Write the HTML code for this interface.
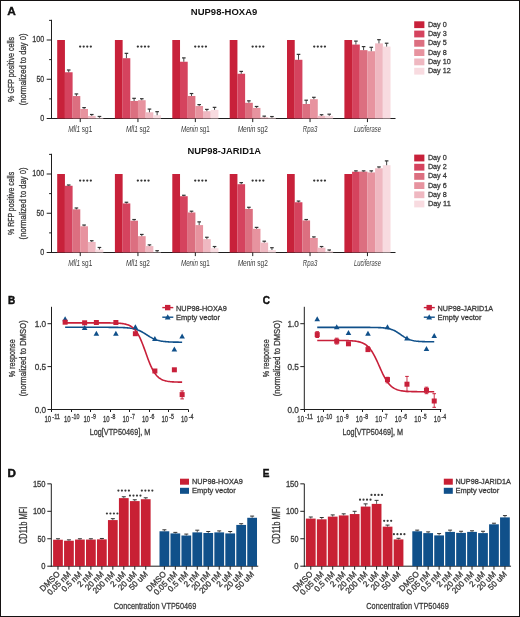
<!DOCTYPE html>
<html><head><meta charset="utf-8"><style>
html,body{margin:0;padding:0;background:#fff;width:520px;height:617px;overflow:hidden}
svg{display:block;will-change:transform}
text{font-family:"Liberation Sans", sans-serif}
</style></head><body>
<svg width="520" height="617" viewBox="0 0 520 617">
<rect x="0" y="0" width="520" height="617" fill="#fff"/>
<text x="7.20" y="15.00" font-size="10" text-anchor="start" fill="#111" font-weight="bold" textLength="8.6" lengthAdjust="spacingAndGlyphs" stroke="#111" stroke-width="0.3">A</text>
<line x1="51.50" y1="19.80" x2="51.50" y2="119.00" stroke="#1e1e1e" stroke-width="1"/>
<line x1="46.70" y1="118.50" x2="51.50" y2="118.50" stroke="#1e1e1e" stroke-width="1"/>
<line x1="46.70" y1="79.25" x2="51.50" y2="79.25" stroke="#1e1e1e" stroke-width="1"/>
<line x1="46.70" y1="40.00" x2="51.50" y2="40.00" stroke="#1e1e1e" stroke-width="1"/>
<line x1="49.10" y1="98.88" x2="51.50" y2="98.88" stroke="#1e1e1e" stroke-width="1"/>
<line x1="49.10" y1="59.62" x2="51.50" y2="59.62" stroke="#1e1e1e" stroke-width="1"/>
<line x1="49.10" y1="20.38" x2="51.50" y2="20.38" stroke="#1e1e1e" stroke-width="1"/>
<text x="44.20" y="120.80" font-size="8.6" text-anchor="end" fill="#3a3a3a" stroke="#3a3a3a" stroke-width="0.3" textLength="4.0" lengthAdjust="spacingAndGlyphs">0</text>
<text x="44.20" y="81.55" font-size="8.6" text-anchor="end" fill="#3a3a3a" stroke="#3a3a3a" stroke-width="0.3" textLength="7.7" lengthAdjust="spacingAndGlyphs">50</text>
<text x="44.20" y="42.30" font-size="8.6" text-anchor="end" fill="#3a3a3a" stroke="#3a3a3a" stroke-width="0.3" textLength="12.0" lengthAdjust="spacingAndGlyphs">100</text>
<line x1="51.00" y1="118.50" x2="395.50" y2="118.50" stroke="#1e1e1e" stroke-width="1"/>
<rect x="57.20" y="40.00" width="7.73" height="78.50" fill="#c8213a"/>
<rect x="64.88" y="72.26" width="7.73" height="46.24" fill="#d5435e"/>
<rect x="72.56" y="96.05" width="7.73" height="22.45" fill="#dc6f80"/>
<rect x="80.24" y="109.00" width="7.73" height="9.50" fill="#e7939f"/>
<rect x="87.92" y="115.91" width="7.73" height="2.59" fill="#efb8c1"/>
<rect x="95.60" y="117.79" width="7.73" height="0.71" fill="#f8dbe0"/>
<line x1="68.72" y1="72.26" x2="68.72" y2="69.99" stroke="#333" stroke-width="0.9"/>
<line x1="66.92" y1="69.99" x2="70.52" y2="69.99" stroke="#333" stroke-width="1.2"/>
<line x1="76.40" y1="96.05" x2="76.40" y2="93.93" stroke="#333" stroke-width="0.9"/>
<line x1="74.60" y1="93.93" x2="78.20" y2="93.93" stroke="#333" stroke-width="1.2"/>
<line x1="84.08" y1="109.00" x2="84.08" y2="107.59" stroke="#333" stroke-width="0.9"/>
<line x1="82.28" y1="107.59" x2="85.88" y2="107.59" stroke="#333" stroke-width="1.2"/>
<line x1="91.76" y1="115.91" x2="91.76" y2="114.50" stroke="#333" stroke-width="0.9"/>
<line x1="89.96" y1="114.50" x2="93.56" y2="114.50" stroke="#333" stroke-width="1.2"/>
<line x1="99.44" y1="117.79" x2="99.44" y2="116.46" stroke="#333" stroke-width="0.9"/>
<line x1="97.64" y1="116.46" x2="101.24" y2="116.46" stroke="#333" stroke-width="1.2"/>
<line x1="80.24" y1="118.50" x2="80.24" y2="122.10" stroke="#1e1e1e" stroke-width="1"/>
<circle cx="80.14" cy="46.60" r="1.15" fill="#333"/>
<circle cx="83.70" cy="46.60" r="1.15" fill="#333"/>
<circle cx="87.26" cy="46.60" r="1.15" fill="#333"/>
<circle cx="90.82" cy="46.60" r="1.15" fill="#333"/>
<text x="80.24" y="131.60" font-size="8.8" text-anchor="middle" fill="#3a3a3a" textLength="24.0" lengthAdjust="spacingAndGlyphs"><tspan font-style="italic">Mll1</tspan> sg1</text>
<rect x="114.90" y="40.00" width="7.73" height="78.50" fill="#c8213a"/>
<rect x="122.58" y="58.21" width="7.73" height="60.29" fill="#d5435e"/>
<rect x="130.26" y="100.99" width="7.73" height="17.51" fill="#dc6f80"/>
<rect x="137.94" y="100.21" width="7.73" height="18.29" fill="#e7939f"/>
<rect x="145.62" y="112.30" width="7.73" height="6.20" fill="#efb8c1"/>
<rect x="153.30" y="115.20" width="7.73" height="3.30" fill="#f8dbe0"/>
<line x1="126.42" y1="58.21" x2="126.42" y2="53.34" stroke="#333" stroke-width="0.9"/>
<line x1="124.62" y1="53.34" x2="128.22" y2="53.34" stroke="#333" stroke-width="1.2"/>
<line x1="134.10" y1="100.99" x2="134.10" y2="98.33" stroke="#333" stroke-width="0.9"/>
<line x1="132.30" y1="98.33" x2="135.90" y2="98.33" stroke="#333" stroke-width="1.2"/>
<line x1="141.78" y1="100.21" x2="141.78" y2="98.72" stroke="#333" stroke-width="0.9"/>
<line x1="139.98" y1="98.72" x2="143.58" y2="98.72" stroke="#333" stroke-width="1.2"/>
<line x1="149.46" y1="112.30" x2="149.46" y2="109.08" stroke="#333" stroke-width="0.9"/>
<line x1="147.66" y1="109.08" x2="151.26" y2="109.08" stroke="#333" stroke-width="1.2"/>
<line x1="157.14" y1="115.20" x2="157.14" y2="111.67" stroke="#333" stroke-width="0.9"/>
<line x1="155.34" y1="111.67" x2="158.94" y2="111.67" stroke="#333" stroke-width="1.2"/>
<line x1="137.94" y1="118.50" x2="137.94" y2="122.10" stroke="#1e1e1e" stroke-width="1"/>
<circle cx="137.84" cy="46.60" r="1.15" fill="#333"/>
<circle cx="141.40" cy="46.60" r="1.15" fill="#333"/>
<circle cx="144.96" cy="46.60" r="1.15" fill="#333"/>
<circle cx="148.52" cy="46.60" r="1.15" fill="#333"/>
<text x="137.94" y="131.60" font-size="8.8" text-anchor="middle" fill="#3a3a3a" textLength="24.0" lengthAdjust="spacingAndGlyphs"><tspan font-style="italic">Mll1</tspan> sg2</text>
<rect x="172.30" y="40.00" width="7.73" height="78.50" fill="#c8213a"/>
<rect x="179.98" y="61.74" width="7.73" height="56.76" fill="#d5435e"/>
<rect x="187.66" y="95.97" width="7.73" height="22.53" fill="#dc6f80"/>
<rect x="195.34" y="106.02" width="7.73" height="12.48" fill="#e7939f"/>
<rect x="203.02" y="111.20" width="7.73" height="7.30" fill="#efb8c1"/>
<rect x="210.70" y="109.86" width="7.73" height="8.63" fill="#f8dbe0"/>
<line x1="183.82" y1="61.74" x2="183.82" y2="57.90" stroke="#333" stroke-width="0.9"/>
<line x1="182.02" y1="57.90" x2="185.62" y2="57.90" stroke="#333" stroke-width="1.2"/>
<line x1="191.50" y1="95.97" x2="191.50" y2="93.54" stroke="#333" stroke-width="0.9"/>
<line x1="189.70" y1="93.54" x2="193.30" y2="93.54" stroke="#333" stroke-width="1.2"/>
<line x1="199.18" y1="106.02" x2="199.18" y2="104.61" stroke="#333" stroke-width="0.9"/>
<line x1="197.38" y1="104.61" x2="200.98" y2="104.61" stroke="#333" stroke-width="1.2"/>
<line x1="206.86" y1="111.20" x2="206.86" y2="109.39" stroke="#333" stroke-width="0.9"/>
<line x1="205.06" y1="109.39" x2="208.66" y2="109.39" stroke="#333" stroke-width="1.2"/>
<line x1="214.54" y1="109.86" x2="214.54" y2="107.35" stroke="#333" stroke-width="0.9"/>
<line x1="212.74" y1="107.35" x2="216.34" y2="107.35" stroke="#333" stroke-width="1.2"/>
<line x1="195.34" y1="118.50" x2="195.34" y2="122.10" stroke="#1e1e1e" stroke-width="1"/>
<circle cx="195.24" cy="46.60" r="1.15" fill="#333"/>
<circle cx="198.80" cy="46.60" r="1.15" fill="#333"/>
<circle cx="202.36" cy="46.60" r="1.15" fill="#333"/>
<circle cx="205.92" cy="46.60" r="1.15" fill="#333"/>
<text x="195.34" y="131.60" font-size="8.8" text-anchor="middle" fill="#3a3a3a" textLength="28.8" lengthAdjust="spacingAndGlyphs"><tspan font-style="italic">Menin</tspan> sg1</text>
<rect x="229.70" y="40.00" width="7.73" height="78.50" fill="#c8213a"/>
<rect x="237.38" y="73.75" width="7.73" height="44.75" fill="#d5435e"/>
<rect x="245.06" y="102.80" width="7.73" height="15.70" fill="#dc6f80"/>
<rect x="252.74" y="107.90" width="7.73" height="10.60" fill="#e7939f"/>
<rect x="260.42" y="117.32" width="7.73" height="1.18" fill="#efb8c1"/>
<rect x="268.10" y="117.72" width="7.73" height="0.79" fill="#f8dbe0"/>
<line x1="241.22" y1="73.75" x2="241.22" y2="71.40" stroke="#333" stroke-width="0.9"/>
<line x1="239.42" y1="71.40" x2="243.02" y2="71.40" stroke="#333" stroke-width="1.2"/>
<line x1="248.90" y1="102.80" x2="248.90" y2="100.84" stroke="#333" stroke-width="0.9"/>
<line x1="247.10" y1="100.84" x2="250.70" y2="100.84" stroke="#333" stroke-width="1.2"/>
<line x1="256.58" y1="107.90" x2="256.58" y2="106.49" stroke="#333" stroke-width="0.9"/>
<line x1="254.78" y1="106.49" x2="258.38" y2="106.49" stroke="#333" stroke-width="1.2"/>
<line x1="264.26" y1="117.32" x2="264.26" y2="116.14" stroke="#333" stroke-width="0.9"/>
<line x1="262.46" y1="116.14" x2="266.06" y2="116.14" stroke="#333" stroke-width="1.2"/>
<line x1="271.94" y1="117.72" x2="271.94" y2="116.54" stroke="#333" stroke-width="0.9"/>
<line x1="270.14" y1="116.54" x2="273.74" y2="116.54" stroke="#333" stroke-width="1.2"/>
<line x1="252.74" y1="118.50" x2="252.74" y2="122.10" stroke="#1e1e1e" stroke-width="1"/>
<circle cx="252.64" cy="46.60" r="1.15" fill="#333"/>
<circle cx="256.20" cy="46.60" r="1.15" fill="#333"/>
<circle cx="259.76" cy="46.60" r="1.15" fill="#333"/>
<circle cx="263.32" cy="46.60" r="1.15" fill="#333"/>
<text x="252.74" y="131.60" font-size="8.8" text-anchor="middle" fill="#3a3a3a" textLength="30.2" lengthAdjust="spacingAndGlyphs"><tspan font-style="italic">Menin</tspan> sg2</text>
<rect x="287.00" y="40.00" width="7.73" height="78.50" fill="#c8213a"/>
<rect x="294.68" y="59.78" width="7.73" height="58.72" fill="#d5435e"/>
<rect x="302.36" y="103.98" width="7.73" height="14.52" fill="#dc6f80"/>
<rect x="310.04" y="99.19" width="7.73" height="19.31" fill="#e7939f"/>
<rect x="317.72" y="115.83" width="7.73" height="2.67" fill="#efb8c1"/>
<rect x="325.40" y="115.83" width="7.73" height="2.67" fill="#f8dbe0"/>
<line x1="298.52" y1="59.78" x2="298.52" y2="54.37" stroke="#333" stroke-width="0.9"/>
<line x1="296.72" y1="54.37" x2="300.32" y2="54.37" stroke="#333" stroke-width="1.2"/>
<line x1="306.20" y1="103.98" x2="306.20" y2="100.21" stroke="#333" stroke-width="0.9"/>
<line x1="304.40" y1="100.21" x2="308.00" y2="100.21" stroke="#333" stroke-width="1.2"/>
<line x1="313.88" y1="99.19" x2="313.88" y2="97.31" stroke="#333" stroke-width="0.9"/>
<line x1="312.08" y1="97.31" x2="315.68" y2="97.31" stroke="#333" stroke-width="1.2"/>
<line x1="321.56" y1="115.83" x2="321.56" y2="114.73" stroke="#333" stroke-width="0.9"/>
<line x1="319.76" y1="114.73" x2="323.36" y2="114.73" stroke="#333" stroke-width="1.2"/>
<line x1="329.24" y1="115.83" x2="329.24" y2="114.18" stroke="#333" stroke-width="0.9"/>
<line x1="327.44" y1="114.18" x2="331.04" y2="114.18" stroke="#333" stroke-width="1.2"/>
<line x1="310.04" y1="118.50" x2="310.04" y2="122.10" stroke="#1e1e1e" stroke-width="1"/>
<circle cx="314.24" cy="46.60" r="1.15" fill="#333"/>
<circle cx="317.80" cy="46.60" r="1.15" fill="#333"/>
<circle cx="321.36" cy="46.60" r="1.15" fill="#333"/>
<circle cx="324.92" cy="46.60" r="1.15" fill="#333"/>
<text x="310.04" y="131.60" font-size="8.8" text-anchor="middle" fill="#3a3a3a" textLength="14.5" lengthAdjust="spacingAndGlyphs"><tspan font-style="italic">Rpa3</tspan></text>
<rect x="344.40" y="40.00" width="7.73" height="78.50" fill="#c8213a"/>
<rect x="352.08" y="44.55" width="7.73" height="73.95" fill="#d5435e"/>
<rect x="359.76" y="50.13" width="7.73" height="68.37" fill="#dc6f80"/>
<rect x="367.44" y="51.23" width="7.73" height="67.27" fill="#e7939f"/>
<rect x="375.12" y="43.38" width="7.73" height="75.12" fill="#efb8c1"/>
<rect x="382.80" y="46.59" width="7.73" height="71.91" fill="#f8dbe0"/>
<line x1="355.92" y1="44.55" x2="355.92" y2="41.10" stroke="#333" stroke-width="0.9"/>
<line x1="354.12" y1="41.10" x2="357.72" y2="41.10" stroke="#333" stroke-width="1.2"/>
<line x1="363.60" y1="50.13" x2="363.60" y2="46.59" stroke="#333" stroke-width="0.9"/>
<line x1="361.80" y1="46.59" x2="365.40" y2="46.59" stroke="#333" stroke-width="1.2"/>
<line x1="371.28" y1="51.23" x2="371.28" y2="47.30" stroke="#333" stroke-width="0.9"/>
<line x1="369.48" y1="47.30" x2="373.08" y2="47.30" stroke="#333" stroke-width="1.2"/>
<line x1="378.96" y1="43.38" x2="378.96" y2="39.69" stroke="#333" stroke-width="0.9"/>
<line x1="377.16" y1="39.69" x2="380.76" y2="39.69" stroke="#333" stroke-width="1.2"/>
<line x1="386.64" y1="46.59" x2="386.64" y2="43.22" stroke="#333" stroke-width="0.9"/>
<line x1="384.84" y1="43.22" x2="388.44" y2="43.22" stroke="#333" stroke-width="1.2"/>
<line x1="367.44" y1="118.50" x2="367.44" y2="122.10" stroke="#1e1e1e" stroke-width="1"/>
<text x="367.44" y="131.60" font-size="8.8" text-anchor="middle" fill="#3a3a3a" textLength="27.0" lengthAdjust="spacingAndGlyphs"><tspan font-style="italic">Luciferase</tspan></text>
<text x="190.80" y="15.00" font-size="9.2" text-anchor="start" fill="#111" font-weight="bold" textLength="66.5" lengthAdjust="spacingAndGlyphs">NUP98-HOXA9</text>
<rect x="414.20" y="21.30" width="10.20" height="6.80" fill="#c8213a"/>
<text x="427.90" y="26.60" font-size="7.8" text-anchor="start" fill="#3a3a3a" stroke="#3a3a3a" stroke-width="0.3" textLength="18.8" lengthAdjust="spacingAndGlyphs">Day 0</text>
<rect x="414.20" y="30.60" width="10.20" height="6.80" fill="#d5435e"/>
<text x="427.90" y="35.90" font-size="7.8" text-anchor="start" fill="#3a3a3a" stroke="#3a3a3a" stroke-width="0.3" textLength="18.8" lengthAdjust="spacingAndGlyphs">Day 3</text>
<rect x="414.20" y="39.90" width="10.20" height="6.80" fill="#dc6f80"/>
<text x="427.90" y="45.20" font-size="7.8" text-anchor="start" fill="#3a3a3a" stroke="#3a3a3a" stroke-width="0.3" textLength="18.8" lengthAdjust="spacingAndGlyphs">Day 5</text>
<rect x="414.20" y="49.20" width="10.20" height="6.80" fill="#e7939f"/>
<text x="427.90" y="54.50" font-size="7.8" text-anchor="start" fill="#3a3a3a" stroke="#3a3a3a" stroke-width="0.3" textLength="18.8" lengthAdjust="spacingAndGlyphs">Day 8</text>
<rect x="414.20" y="58.50" width="10.20" height="6.80" fill="#efb8c1"/>
<text x="427.90" y="63.80" font-size="7.8" text-anchor="start" fill="#3a3a3a" stroke="#3a3a3a" stroke-width="0.3" textLength="22.9" lengthAdjust="spacingAndGlyphs">Day 10</text>
<rect x="414.20" y="67.80" width="10.20" height="6.80" fill="#f8dbe0"/>
<text x="427.90" y="73.10" font-size="7.8" text-anchor="start" fill="#3a3a3a" stroke="#3a3a3a" stroke-width="0.3" textLength="22.9" lengthAdjust="spacingAndGlyphs">Day 12</text>
<text x="13.80" y="69.40" font-size="9.4" text-anchor="middle" fill="#3a3a3a" stroke="#3a3a3a" stroke-width="0.3" textLength="65" lengthAdjust="spacingAndGlyphs" transform="rotate(-90 13.8 69.40)">% GFP positive cells</text>
<text x="26.00" y="69.40" font-size="9.4" text-anchor="middle" fill="#3a3a3a" stroke="#3a3a3a" stroke-width="0.3" textLength="71.7" lengthAdjust="spacingAndGlyphs" transform="rotate(-90 26.0 69.40)">(normalized to day 0)</text>
<line x1="51.50" y1="153.80" x2="51.50" y2="253.00" stroke="#1e1e1e" stroke-width="1"/>
<line x1="46.70" y1="252.50" x2="51.50" y2="252.50" stroke="#1e1e1e" stroke-width="1"/>
<line x1="46.70" y1="213.25" x2="51.50" y2="213.25" stroke="#1e1e1e" stroke-width="1"/>
<line x1="46.70" y1="174.00" x2="51.50" y2="174.00" stroke="#1e1e1e" stroke-width="1"/>
<line x1="49.10" y1="232.88" x2="51.50" y2="232.88" stroke="#1e1e1e" stroke-width="1"/>
<line x1="49.10" y1="193.62" x2="51.50" y2="193.62" stroke="#1e1e1e" stroke-width="1"/>
<line x1="49.10" y1="154.38" x2="51.50" y2="154.38" stroke="#1e1e1e" stroke-width="1"/>
<text x="44.20" y="254.80" font-size="8.6" text-anchor="end" fill="#3a3a3a" stroke="#3a3a3a" stroke-width="0.3" textLength="4.0" lengthAdjust="spacingAndGlyphs">0</text>
<text x="44.20" y="215.55" font-size="8.6" text-anchor="end" fill="#3a3a3a" stroke="#3a3a3a" stroke-width="0.3" textLength="7.7" lengthAdjust="spacingAndGlyphs">50</text>
<text x="44.20" y="176.30" font-size="8.6" text-anchor="end" fill="#3a3a3a" stroke="#3a3a3a" stroke-width="0.3" textLength="12.0" lengthAdjust="spacingAndGlyphs">100</text>
<line x1="51.00" y1="252.50" x2="395.50" y2="252.50" stroke="#1e1e1e" stroke-width="1"/>
<rect x="57.20" y="174.00" width="7.73" height="78.50" fill="#c8213a"/>
<rect x="64.88" y="185.77" width="7.73" height="66.73" fill="#d5435e"/>
<rect x="72.56" y="209.32" width="7.73" height="43.18" fill="#dc6f80"/>
<rect x="80.24" y="226.28" width="7.73" height="26.22" fill="#e7939f"/>
<rect x="87.92" y="241.98" width="7.73" height="10.52" fill="#efb8c1"/>
<rect x="95.60" y="249.52" width="7.73" height="2.98" fill="#f8dbe0"/>
<line x1="68.72" y1="185.77" x2="68.72" y2="184.99" stroke="#333" stroke-width="0.9"/>
<line x1="66.92" y1="184.99" x2="70.52" y2="184.99" stroke="#333" stroke-width="1.2"/>
<line x1="76.40" y1="209.32" x2="76.40" y2="207.99" stroke="#333" stroke-width="0.9"/>
<line x1="74.60" y1="207.99" x2="78.20" y2="207.99" stroke="#333" stroke-width="1.2"/>
<line x1="84.08" y1="226.28" x2="84.08" y2="225.03" stroke="#333" stroke-width="0.9"/>
<line x1="82.28" y1="225.03" x2="85.88" y2="225.03" stroke="#333" stroke-width="1.2"/>
<line x1="91.76" y1="241.98" x2="91.76" y2="240.72" stroke="#333" stroke-width="0.9"/>
<line x1="89.96" y1="240.72" x2="93.56" y2="240.72" stroke="#333" stroke-width="1.2"/>
<line x1="99.44" y1="249.52" x2="99.44" y2="247.48" stroke="#333" stroke-width="0.9"/>
<line x1="97.64" y1="247.48" x2="101.24" y2="247.48" stroke="#333" stroke-width="1.2"/>
<line x1="80.24" y1="252.50" x2="80.24" y2="256.10" stroke="#1e1e1e" stroke-width="1"/>
<circle cx="80.14" cy="180.60" r="1.15" fill="#333"/>
<circle cx="83.70" cy="180.60" r="1.15" fill="#333"/>
<circle cx="87.26" cy="180.60" r="1.15" fill="#333"/>
<circle cx="90.82" cy="180.60" r="1.15" fill="#333"/>
<text x="80.24" y="265.60" font-size="8.8" text-anchor="middle" fill="#3a3a3a" textLength="24.0" lengthAdjust="spacingAndGlyphs"><tspan font-style="italic">Mll1</tspan> sg1</text>
<rect x="114.90" y="174.00" width="7.73" height="78.50" fill="#c8213a"/>
<rect x="122.58" y="203.44" width="7.73" height="49.06" fill="#d5435e"/>
<rect x="130.26" y="220.71" width="7.73" height="31.79" fill="#dc6f80"/>
<rect x="137.94" y="236.17" width="7.73" height="16.33" fill="#e7939f"/>
<rect x="145.62" y="246.06" width="7.73" height="6.44" fill="#efb8c1"/>
<rect x="153.30" y="252.11" width="7.73" height="0.39" fill="#f8dbe0"/>
<line x1="126.42" y1="203.44" x2="126.42" y2="202.26" stroke="#333" stroke-width="0.9"/>
<line x1="124.62" y1="202.26" x2="128.22" y2="202.26" stroke="#333" stroke-width="1.2"/>
<line x1="134.10" y1="220.71" x2="134.10" y2="219.53" stroke="#333" stroke-width="0.9"/>
<line x1="132.30" y1="219.53" x2="135.90" y2="219.53" stroke="#333" stroke-width="1.2"/>
<line x1="141.78" y1="236.17" x2="141.78" y2="234.44" stroke="#333" stroke-width="0.9"/>
<line x1="139.98" y1="234.44" x2="143.58" y2="234.44" stroke="#333" stroke-width="1.2"/>
<line x1="149.46" y1="246.06" x2="149.46" y2="244.89" stroke="#333" stroke-width="0.9"/>
<line x1="147.66" y1="244.89" x2="151.26" y2="244.89" stroke="#333" stroke-width="1.2"/>
<line x1="157.14" y1="252.11" x2="157.14" y2="250.69" stroke="#333" stroke-width="0.9"/>
<line x1="155.34" y1="250.69" x2="158.94" y2="250.69" stroke="#333" stroke-width="1.2"/>
<line x1="137.94" y1="252.50" x2="137.94" y2="256.10" stroke="#1e1e1e" stroke-width="1"/>
<circle cx="137.84" cy="180.60" r="1.15" fill="#333"/>
<circle cx="141.40" cy="180.60" r="1.15" fill="#333"/>
<circle cx="144.96" cy="180.60" r="1.15" fill="#333"/>
<circle cx="148.52" cy="180.60" r="1.15" fill="#333"/>
<text x="137.94" y="265.60" font-size="8.8" text-anchor="middle" fill="#3a3a3a" textLength="24.0" lengthAdjust="spacingAndGlyphs"><tspan font-style="italic">Mll1</tspan> sg2</text>
<rect x="172.30" y="174.00" width="7.73" height="78.50" fill="#c8213a"/>
<rect x="179.98" y="196.22" width="7.73" height="56.28" fill="#d5435e"/>
<rect x="187.66" y="212.47" width="7.73" height="40.04" fill="#dc6f80"/>
<rect x="195.34" y="225.10" width="7.73" height="27.40" fill="#e7939f"/>
<rect x="203.02" y="239.16" width="7.73" height="13.35" fill="#efb8c1"/>
<rect x="210.70" y="248.18" width="7.73" height="4.32" fill="#f8dbe0"/>
<line x1="183.82" y1="196.22" x2="183.82" y2="195.27" stroke="#333" stroke-width="0.9"/>
<line x1="182.02" y1="195.27" x2="185.62" y2="195.27" stroke="#333" stroke-width="1.2"/>
<line x1="191.50" y1="212.47" x2="191.50" y2="211.21" stroke="#333" stroke-width="0.9"/>
<line x1="189.70" y1="211.21" x2="193.30" y2="211.21" stroke="#333" stroke-width="1.2"/>
<line x1="199.18" y1="225.10" x2="199.18" y2="221.88" stroke="#333" stroke-width="0.9"/>
<line x1="197.38" y1="221.88" x2="200.98" y2="221.88" stroke="#333" stroke-width="1.2"/>
<line x1="206.86" y1="239.16" x2="206.86" y2="237.27" stroke="#333" stroke-width="0.9"/>
<line x1="205.06" y1="237.27" x2="208.66" y2="237.27" stroke="#333" stroke-width="1.2"/>
<line x1="214.54" y1="248.18" x2="214.54" y2="246.53" stroke="#333" stroke-width="0.9"/>
<line x1="212.74" y1="246.53" x2="216.34" y2="246.53" stroke="#333" stroke-width="1.2"/>
<line x1="195.34" y1="252.50" x2="195.34" y2="256.10" stroke="#1e1e1e" stroke-width="1"/>
<circle cx="195.24" cy="180.60" r="1.15" fill="#333"/>
<circle cx="198.80" cy="180.60" r="1.15" fill="#333"/>
<circle cx="202.36" cy="180.60" r="1.15" fill="#333"/>
<circle cx="205.92" cy="180.60" r="1.15" fill="#333"/>
<text x="195.34" y="265.60" font-size="8.8" text-anchor="middle" fill="#3a3a3a" textLength="28.8" lengthAdjust="spacingAndGlyphs"><tspan font-style="italic">Menin</tspan> sg1</text>
<rect x="229.70" y="174.00" width="7.73" height="78.50" fill="#c8213a"/>
<rect x="237.38" y="184.20" width="7.73" height="68.30" fill="#d5435e"/>
<rect x="245.06" y="208.93" width="7.73" height="43.57" fill="#dc6f80"/>
<rect x="252.74" y="228.79" width="7.73" height="23.71" fill="#e7939f"/>
<rect x="260.42" y="242.61" width="7.73" height="9.89" fill="#efb8c1"/>
<rect x="268.10" y="249.99" width="7.73" height="2.51" fill="#f8dbe0"/>
<line x1="241.22" y1="184.20" x2="241.22" y2="182.63" stroke="#333" stroke-width="0.9"/>
<line x1="239.42" y1="182.63" x2="243.02" y2="182.63" stroke="#333" stroke-width="1.2"/>
<line x1="248.90" y1="208.93" x2="248.90" y2="207.28" stroke="#333" stroke-width="0.9"/>
<line x1="247.10" y1="207.28" x2="250.70" y2="207.28" stroke="#333" stroke-width="1.2"/>
<line x1="256.58" y1="228.79" x2="256.58" y2="227.38" stroke="#333" stroke-width="0.9"/>
<line x1="254.78" y1="227.38" x2="258.38" y2="227.38" stroke="#333" stroke-width="1.2"/>
<line x1="264.26" y1="242.61" x2="264.26" y2="241.20" stroke="#333" stroke-width="0.9"/>
<line x1="262.46" y1="241.20" x2="266.06" y2="241.20" stroke="#333" stroke-width="1.2"/>
<line x1="271.94" y1="249.99" x2="271.94" y2="247.71" stroke="#333" stroke-width="0.9"/>
<line x1="270.14" y1="247.71" x2="273.74" y2="247.71" stroke="#333" stroke-width="1.2"/>
<line x1="252.74" y1="252.50" x2="252.74" y2="256.10" stroke="#1e1e1e" stroke-width="1"/>
<circle cx="252.64" cy="180.60" r="1.15" fill="#333"/>
<circle cx="256.20" cy="180.60" r="1.15" fill="#333"/>
<circle cx="259.76" cy="180.60" r="1.15" fill="#333"/>
<circle cx="263.32" cy="180.60" r="1.15" fill="#333"/>
<text x="252.74" y="265.60" font-size="8.8" text-anchor="middle" fill="#3a3a3a" textLength="30.2" lengthAdjust="spacingAndGlyphs"><tspan font-style="italic">Menin</tspan> sg2</text>
<rect x="287.00" y="174.00" width="7.73" height="78.50" fill="#c8213a"/>
<rect x="294.68" y="202.26" width="7.73" height="50.24" fill="#d5435e"/>
<rect x="302.36" y="220.47" width="7.73" height="32.03" fill="#dc6f80"/>
<rect x="310.04" y="237.98" width="7.73" height="14.52" fill="#e7939f"/>
<rect x="317.72" y="247.71" width="7.73" height="4.79" fill="#efb8c1"/>
<rect x="325.40" y="251.17" width="7.73" height="1.33" fill="#f8dbe0"/>
<line x1="298.52" y1="202.26" x2="298.52" y2="201.08" stroke="#333" stroke-width="0.9"/>
<line x1="296.72" y1="201.08" x2="300.32" y2="201.08" stroke="#333" stroke-width="1.2"/>
<line x1="306.20" y1="220.47" x2="306.20" y2="219.53" stroke="#333" stroke-width="0.9"/>
<line x1="304.40" y1="219.53" x2="308.00" y2="219.53" stroke="#333" stroke-width="1.2"/>
<line x1="313.88" y1="237.98" x2="313.88" y2="236.88" stroke="#333" stroke-width="0.9"/>
<line x1="312.08" y1="236.88" x2="315.68" y2="236.88" stroke="#333" stroke-width="1.2"/>
<line x1="321.56" y1="247.71" x2="321.56" y2="246.53" stroke="#333" stroke-width="0.9"/>
<line x1="319.76" y1="246.53" x2="323.36" y2="246.53" stroke="#333" stroke-width="1.2"/>
<line x1="329.24" y1="251.17" x2="329.24" y2="249.99" stroke="#333" stroke-width="0.9"/>
<line x1="327.44" y1="249.99" x2="331.04" y2="249.99" stroke="#333" stroke-width="1.2"/>
<line x1="310.04" y1="252.50" x2="310.04" y2="256.10" stroke="#1e1e1e" stroke-width="1"/>
<circle cx="314.24" cy="180.60" r="1.15" fill="#333"/>
<circle cx="317.80" cy="180.60" r="1.15" fill="#333"/>
<circle cx="321.36" cy="180.60" r="1.15" fill="#333"/>
<circle cx="324.92" cy="180.60" r="1.15" fill="#333"/>
<text x="310.04" y="265.60" font-size="8.8" text-anchor="middle" fill="#3a3a3a" textLength="14.5" lengthAdjust="spacingAndGlyphs"><tspan font-style="italic">Rpa3</tspan></text>
<rect x="344.40" y="174.00" width="7.73" height="78.50" fill="#c8213a"/>
<rect x="352.08" y="171.72" width="7.73" height="80.78" fill="#d5435e"/>
<rect x="359.76" y="171.64" width="7.73" height="80.86" fill="#dc6f80"/>
<rect x="367.44" y="172.43" width="7.73" height="80.07" fill="#e7939f"/>
<rect x="375.12" y="168.27" width="7.73" height="84.23" fill="#efb8c1"/>
<rect x="382.80" y="165.21" width="7.73" height="87.29" fill="#f8dbe0"/>
<line x1="355.92" y1="171.72" x2="355.92" y2="170.86" stroke="#333" stroke-width="0.9"/>
<line x1="354.12" y1="170.86" x2="357.72" y2="170.86" stroke="#333" stroke-width="1.2"/>
<line x1="363.60" y1="171.64" x2="363.60" y2="170.86" stroke="#333" stroke-width="0.9"/>
<line x1="361.80" y1="170.86" x2="365.40" y2="170.86" stroke="#333" stroke-width="1.2"/>
<line x1="371.28" y1="172.43" x2="371.28" y2="170.86" stroke="#333" stroke-width="0.9"/>
<line x1="369.48" y1="170.86" x2="373.08" y2="170.86" stroke="#333" stroke-width="1.2"/>
<line x1="378.96" y1="168.27" x2="378.96" y2="166.94" stroke="#333" stroke-width="0.9"/>
<line x1="377.16" y1="166.94" x2="380.76" y2="166.94" stroke="#333" stroke-width="1.2"/>
<line x1="386.64" y1="165.21" x2="386.64" y2="160.89" stroke="#333" stroke-width="0.9"/>
<line x1="384.84" y1="160.89" x2="388.44" y2="160.89" stroke="#333" stroke-width="1.2"/>
<line x1="367.44" y1="252.50" x2="367.44" y2="256.10" stroke="#1e1e1e" stroke-width="1"/>
<text x="367.44" y="265.60" font-size="8.8" text-anchor="middle" fill="#3a3a3a" textLength="27.0" lengthAdjust="spacingAndGlyphs"><tspan font-style="italic">Luciferase</tspan></text>
<text x="187.50" y="153.80" font-size="9.2" text-anchor="start" fill="#111" font-weight="bold" textLength="73.5" lengthAdjust="spacingAndGlyphs">NUP98-JARID1A</text>
<rect x="414.20" y="154.60" width="10.20" height="6.80" fill="#c8213a"/>
<text x="427.90" y="159.90" font-size="7.8" text-anchor="start" fill="#3a3a3a" stroke="#3a3a3a" stroke-width="0.3" textLength="18.8" lengthAdjust="spacingAndGlyphs">Day 0</text>
<rect x="414.20" y="163.80" width="10.20" height="6.80" fill="#d5435e"/>
<text x="427.90" y="169.10" font-size="7.8" text-anchor="start" fill="#3a3a3a" stroke="#3a3a3a" stroke-width="0.3" textLength="18.8" lengthAdjust="spacingAndGlyphs">Day 2</text>
<rect x="414.20" y="173.00" width="10.20" height="6.80" fill="#dc6f80"/>
<text x="427.90" y="178.30" font-size="7.8" text-anchor="start" fill="#3a3a3a" stroke="#3a3a3a" stroke-width="0.3" textLength="18.8" lengthAdjust="spacingAndGlyphs">Day 4</text>
<rect x="414.20" y="182.20" width="10.20" height="6.80" fill="#e7939f"/>
<text x="427.90" y="187.50" font-size="7.8" text-anchor="start" fill="#3a3a3a" stroke="#3a3a3a" stroke-width="0.3" textLength="18.8" lengthAdjust="spacingAndGlyphs">Day 6</text>
<rect x="414.20" y="191.40" width="10.20" height="6.80" fill="#efb8c1"/>
<text x="427.90" y="196.70" font-size="7.8" text-anchor="start" fill="#3a3a3a" stroke="#3a3a3a" stroke-width="0.3" textLength="18.8" lengthAdjust="spacingAndGlyphs">Day 8</text>
<rect x="414.20" y="200.60" width="10.20" height="6.80" fill="#f8dbe0"/>
<text x="427.90" y="205.90" font-size="7.8" text-anchor="start" fill="#3a3a3a" stroke="#3a3a3a" stroke-width="0.3" textLength="22.9" lengthAdjust="spacingAndGlyphs">Day 11</text>
<text x="13.80" y="203.40" font-size="9.4" text-anchor="middle" fill="#3a3a3a" stroke="#3a3a3a" stroke-width="0.3" textLength="63" lengthAdjust="spacingAndGlyphs" transform="rotate(-90 13.8 203.40)">% RFP positive cells</text>
<text x="26.00" y="203.40" font-size="9.4" text-anchor="middle" fill="#3a3a3a" stroke="#3a3a3a" stroke-width="0.3" textLength="72" lengthAdjust="spacingAndGlyphs" transform="rotate(-90 26.0 203.40)">(normalized to day 0)</text>
<line x1="51.50" y1="306.80" x2="51.50" y2="410.00" stroke="#1e1e1e" stroke-width="1"/>
<line x1="47.50" y1="409.50" x2="51.50" y2="409.50" stroke="#1e1e1e" stroke-width="1"/>
<text x="46.10" y="412.50" font-size="8.6" text-anchor="end" fill="#3a3a3a" stroke="#3a3a3a" stroke-width="0.3" textLength="11.4" lengthAdjust="spacingAndGlyphs">0.0</text>
<line x1="47.50" y1="366.60" x2="51.50" y2="366.60" stroke="#1e1e1e" stroke-width="1"/>
<text x="46.10" y="369.60" font-size="8.6" text-anchor="end" fill="#3a3a3a" stroke="#3a3a3a" stroke-width="0.3" textLength="11.4" lengthAdjust="spacingAndGlyphs">0.5</text>
<line x1="47.50" y1="323.70" x2="51.50" y2="323.70" stroke="#1e1e1e" stroke-width="1"/>
<text x="46.10" y="326.70" font-size="8.6" text-anchor="end" fill="#3a3a3a" stroke="#3a3a3a" stroke-width="0.3" textLength="11.4" lengthAdjust="spacingAndGlyphs">1.0</text>
<line x1="51.00" y1="409.50" x2="188.50" y2="409.50" stroke="#1e1e1e" stroke-width="1"/>
<line x1="51.50" y1="409.50" x2="51.50" y2="412.00" stroke="#1e1e1e" stroke-width="1"/>
<text x="51.20" y="421.60" font-size="8.4" text-anchor="end" fill="#3a3a3a" stroke="#3a3a3a" stroke-width="0.3" textLength="6.7" lengthAdjust="spacingAndGlyphs">10</text>
<text x="52.30" y="418.60" font-size="6.6" text-anchor="start" fill="#3a3a3a" stroke="#3a3a3a" stroke-width="0.3" textLength="7.7" lengthAdjust="spacingAndGlyphs">-11</text>
<line x1="71.50" y1="409.50" x2="71.50" y2="412.00" stroke="#1e1e1e" stroke-width="1"/>
<text x="70.70" y="421.60" font-size="8.4" text-anchor="end" fill="#3a3a3a" stroke="#3a3a3a" stroke-width="0.3" textLength="6.7" lengthAdjust="spacingAndGlyphs">10</text>
<text x="71.80" y="418.60" font-size="6.6" text-anchor="start" fill="#3a3a3a" stroke="#3a3a3a" stroke-width="0.3" textLength="7.7" lengthAdjust="spacingAndGlyphs">-10</text>
<line x1="90.50" y1="409.50" x2="90.50" y2="412.00" stroke="#1e1e1e" stroke-width="1"/>
<text x="90.20" y="421.60" font-size="8.4" text-anchor="end" fill="#3a3a3a" stroke="#3a3a3a" stroke-width="0.3" textLength="6.7" lengthAdjust="spacingAndGlyphs">10</text>
<text x="91.30" y="418.60" font-size="6.6" text-anchor="start" fill="#3a3a3a" stroke="#3a3a3a" stroke-width="0.3" textLength="4.6" lengthAdjust="spacingAndGlyphs">-9</text>
<line x1="110.50" y1="409.50" x2="110.50" y2="412.00" stroke="#1e1e1e" stroke-width="1"/>
<text x="109.70" y="421.60" font-size="8.4" text-anchor="end" fill="#3a3a3a" stroke="#3a3a3a" stroke-width="0.3" textLength="6.7" lengthAdjust="spacingAndGlyphs">10</text>
<text x="110.80" y="418.60" font-size="6.6" text-anchor="start" fill="#3a3a3a" stroke="#3a3a3a" stroke-width="0.3" textLength="4.6" lengthAdjust="spacingAndGlyphs">-8</text>
<line x1="129.50" y1="409.50" x2="129.50" y2="412.00" stroke="#1e1e1e" stroke-width="1"/>
<text x="129.20" y="421.60" font-size="8.4" text-anchor="end" fill="#3a3a3a" stroke="#3a3a3a" stroke-width="0.3" textLength="6.7" lengthAdjust="spacingAndGlyphs">10</text>
<text x="130.30" y="418.60" font-size="6.6" text-anchor="start" fill="#3a3a3a" stroke="#3a3a3a" stroke-width="0.3" textLength="4.6" lengthAdjust="spacingAndGlyphs">-7</text>
<line x1="149.50" y1="409.50" x2="149.50" y2="412.00" stroke="#1e1e1e" stroke-width="1"/>
<text x="148.70" y="421.60" font-size="8.4" text-anchor="end" fill="#3a3a3a" stroke="#3a3a3a" stroke-width="0.3" textLength="6.7" lengthAdjust="spacingAndGlyphs">10</text>
<text x="149.80" y="418.60" font-size="6.6" text-anchor="start" fill="#3a3a3a" stroke="#3a3a3a" stroke-width="0.3" textLength="4.6" lengthAdjust="spacingAndGlyphs">-6</text>
<line x1="168.50" y1="409.50" x2="168.50" y2="412.00" stroke="#1e1e1e" stroke-width="1"/>
<text x="168.20" y="421.60" font-size="8.4" text-anchor="end" fill="#3a3a3a" stroke="#3a3a3a" stroke-width="0.3" textLength="6.7" lengthAdjust="spacingAndGlyphs">10</text>
<text x="169.30" y="418.60" font-size="6.6" text-anchor="start" fill="#3a3a3a" stroke="#3a3a3a" stroke-width="0.3" textLength="4.6" lengthAdjust="spacingAndGlyphs">-5</text>
<line x1="188.50" y1="409.50" x2="188.50" y2="412.00" stroke="#1e1e1e" stroke-width="1"/>
<text x="187.70" y="421.60" font-size="8.4" text-anchor="end" fill="#3a3a3a" stroke="#3a3a3a" stroke-width="0.3" textLength="6.7" lengthAdjust="spacingAndGlyphs">10</text>
<text x="188.80" y="418.60" font-size="6.6" text-anchor="start" fill="#3a3a3a" stroke="#3a3a3a" stroke-width="0.3" textLength="4.6" lengthAdjust="spacingAndGlyphs">-4</text>
<text x="120.00" y="435.20" font-size="9.2" text-anchor="middle" fill="#3a3a3a" stroke="#3a3a3a" stroke-width="0.3" textLength="60.6" lengthAdjust="spacingAndGlyphs">Log[VTP50469], M</text>
<text x="14.80" y="358.30" font-size="9.4" text-anchor="middle" fill="#3a3a3a" stroke="#3a3a3a" stroke-width="0.3" textLength="38" lengthAdjust="spacingAndGlyphs" transform="rotate(-90 14.80 358.3)">% response</text>
<text x="25.70" y="358.30" font-size="9.0" text-anchor="middle" fill="#3a3a3a" stroke="#3a3a3a" stroke-width="0.3" textLength="76.0" lengthAdjust="spacingAndGlyphs" transform="rotate(-90 25.70 358.3)">(normalized to DMSO)</text>
<polyline points="65.13,327.30 66.10,327.30 67.08,327.30 68.05,327.30 69.03,327.30 70.00,327.30 70.98,327.30 71.95,327.30 72.93,327.30 73.90,327.30 74.88,327.30 75.85,327.30 76.83,327.30 77.80,327.30 78.78,327.30 79.75,327.30 80.73,327.30 81.70,327.30 82.68,327.30 83.65,327.30 84.63,327.30 85.60,327.30 86.58,327.30 87.55,327.30 88.53,327.30 89.50,327.30 90.48,327.30 91.45,327.30 92.43,327.30 93.40,327.31 94.38,327.31 95.35,327.31 96.33,327.31 97.30,327.31 98.28,327.31 99.25,327.31 100.23,327.31 101.20,327.31 102.18,327.31 103.15,327.31 104.13,327.31 105.10,327.32 106.08,327.32 107.05,327.32 108.03,327.32 109.00,327.33 109.98,327.33 110.95,327.34 111.93,327.34 112.90,327.35 113.88,327.36 114.85,327.37 115.83,327.38 116.80,327.39 117.78,327.41 118.75,327.43 119.73,327.45 120.70,327.48 121.68,327.51 122.65,327.54 123.63,327.59 124.60,327.64 125.58,327.70 126.55,327.77 127.53,327.85 128.50,327.94 129.48,328.05 130.45,328.18 131.43,328.33 132.40,328.50 133.38,328.70 134.35,328.92 135.33,329.18 136.30,329.47 137.28,329.80 138.25,330.17 139.23,330.57 140.20,331.02 141.18,331.50 142.15,332.02 143.13,332.58 144.10,333.16 145.08,333.76 146.05,334.38 147.03,335.00 148.00,335.62 148.98,336.23 149.95,336.82 150.93,337.38 151.90,337.91 152.88,338.41 153.85,338.86 154.83,339.28 155.80,339.65 156.78,339.99 157.75,340.29 158.73,340.55 159.70,340.79 160.68,340.99 161.65,341.17 162.63,341.32 163.60,341.46 164.58,341.57 165.55,341.67 166.53,341.75 167.50,341.82 168.48,341.89 169.45,341.94 170.43,341.98 171.40,342.02 172.38,342.05 173.35,342.08 174.33,342.10 175.30,342.12 176.28,342.14 177.25,342.15 178.23,342.17 179.20,342.18 180.18,342.18 181.15,342.19 182.13,342.20" fill="none" stroke="#10508a" stroke-width="1.6"/>
<polyline points="65.13,322.84 66.10,322.84 67.08,322.84 68.05,322.84 69.03,322.84 70.00,322.84 70.98,322.84 71.95,322.84 72.93,322.84 73.90,322.84 74.88,322.84 75.85,322.84 76.83,322.84 77.80,322.84 78.78,322.84 79.75,322.84 80.73,322.84 81.70,322.84 82.68,322.84 83.65,322.84 84.63,322.84 85.60,322.84 86.58,322.84 87.55,322.84 88.53,322.84 89.50,322.84 90.48,322.84 91.45,322.84 92.43,322.84 93.40,322.85 94.38,322.85 95.35,322.85 96.33,322.85 97.30,322.85 98.28,322.85 99.25,322.85 100.23,322.85 101.20,322.86 102.18,322.86 103.15,322.86 104.13,322.87 105.10,322.87 106.08,322.88 107.05,322.88 108.03,322.89 109.00,322.90 109.98,322.91 110.95,322.93 111.93,322.94 112.90,322.96 113.88,322.99 114.85,323.02 115.83,323.05 116.80,323.09 117.78,323.15 118.75,323.21 119.73,323.28 120.70,323.37 121.68,323.47 122.65,323.60 123.63,323.75 124.60,323.93 125.58,324.14 126.55,324.40 127.53,324.70 128.50,325.07 129.48,325.50 130.45,326.01 131.43,326.60 132.40,327.31 133.38,328.13 134.35,329.09 135.33,330.20 136.30,331.47 137.28,332.92 138.25,334.55 139.23,336.38 140.20,338.40 141.18,340.61 142.15,342.98 143.13,345.50 144.10,348.13 145.08,350.83 146.05,353.57 147.03,356.28 148.00,358.93 148.98,361.48 149.95,363.89 150.93,366.14 151.90,368.21 152.88,370.08 153.85,371.76 154.83,373.26 155.80,374.57 156.78,375.72 157.75,376.71 158.73,377.56 159.70,378.29 160.68,378.92 161.65,379.45 162.63,379.89 163.60,380.27 164.58,380.59 165.55,380.86 166.53,381.08 167.50,381.27 168.48,381.43 169.45,381.56 170.43,381.67 171.40,381.76 172.38,381.84 173.35,381.90 174.33,381.95 175.30,382.00 176.28,382.03 177.25,382.06 178.23,382.09 179.20,382.11 180.18,382.13 181.15,382.14 182.13,382.15" fill="none" stroke="#c8203a" stroke-width="1.6"/>
<path d="M62.33,321.22 L67.93,321.22 L65.13,316.18 Z" fill="#10508a"/>
<path d="M81.83,329.92 L87.43,329.92 L84.63,324.88 Z" fill="#10508a"/>
<path d="M93.57,335.72 L99.17,335.72 L96.37,330.68 Z" fill="#10508a"/>
<path d="M113.07,335.72 L118.67,335.72 L115.87,330.68 Z" fill="#10508a"/>
<path d="M132.57,329.32 L138.17,329.32 L135.37,324.28 Z" fill="#10508a"/>
<path d="M152.07,340.92 L157.67,340.92 L154.87,335.88 Z" fill="#10508a"/>
<path d="M171.57,351.52 L177.17,351.52 L174.37,346.48 Z" fill="#10508a"/>
<path d="M179.33,338.52 L184.93,338.52 L182.13,333.48 Z" fill="#10508a"/>
<rect x="62.63" y="319.70" width="5.00" height="5.00" fill="#c8203a"/>
<rect x="82.13" y="320.30" width="5.00" height="5.00" fill="#c8203a"/>
<rect x="93.87" y="320.00" width="5.00" height="5.00" fill="#c8203a"/>
<rect x="113.37" y="320.00" width="5.00" height="5.00" fill="#c8203a"/>
<rect x="132.87" y="331.20" width="5.00" height="5.00" fill="#c8203a"/>
<rect x="152.37" y="368.50" width="5.00" height="5.00" fill="#c8203a"/>
<rect x="171.87" y="367.30" width="5.00" height="5.00" fill="#c8203a"/>
<line x1="182.13" y1="390.90" x2="182.13" y2="398.90" stroke="#c8203a" stroke-width="0.9"/>
<line x1="180.33" y1="390.90" x2="183.93" y2="390.90" stroke="#c8203a" stroke-width="1.0"/>
<line x1="180.33" y1="398.90" x2="183.93" y2="398.90" stroke="#c8203a" stroke-width="1.0"/>
<rect x="179.63" y="392.10" width="5.00" height="5.00" fill="#c8203a"/>
<line x1="162.30" y1="307.60" x2="173.30" y2="307.60" stroke="#c8203a" stroke-width="1.4"/>
<rect x="165.00" y="304.90" width="5.40" height="5.40" fill="#c8203a"/>
<text x="176.10" y="310.60" font-size="8.0" text-anchor="start" fill="#3a3a3a" stroke="#3a3a3a" stroke-width="0.3" textLength="50.7" lengthAdjust="spacingAndGlyphs">NUP98-HOXA9</text>
<line x1="162.30" y1="317.20" x2="173.30" y2="317.20" stroke="#10508a" stroke-width="1.4"/>
<path d="M164.80,319.51 L170.60,319.51 L167.70,314.29 Z" fill="#10508a"/>
<text x="176.10" y="320.20" font-size="8.0" text-anchor="start" fill="#3a3a3a" stroke="#3a3a3a" stroke-width="0.3" textLength="43.8" lengthAdjust="spacingAndGlyphs">Empty vector</text>
<text x="8.00" y="303.80" font-size="10" text-anchor="start" fill="#111" font-weight="bold" stroke="#111" stroke-width="0.45">B</text>
<line x1="304.30" y1="306.80" x2="304.30" y2="410.00" stroke="#1e1e1e" stroke-width="1"/>
<line x1="300.30" y1="409.50" x2="304.30" y2="409.50" stroke="#1e1e1e" stroke-width="1"/>
<text x="298.90" y="412.50" font-size="8.6" text-anchor="end" fill="#3a3a3a" stroke="#3a3a3a" stroke-width="0.3" textLength="11.4" lengthAdjust="spacingAndGlyphs">0.0</text>
<line x1="300.30" y1="366.60" x2="304.30" y2="366.60" stroke="#1e1e1e" stroke-width="1"/>
<text x="298.90" y="369.60" font-size="8.6" text-anchor="end" fill="#3a3a3a" stroke="#3a3a3a" stroke-width="0.3" textLength="11.4" lengthAdjust="spacingAndGlyphs">0.5</text>
<line x1="300.30" y1="323.70" x2="304.30" y2="323.70" stroke="#1e1e1e" stroke-width="1"/>
<text x="298.90" y="326.70" font-size="8.6" text-anchor="end" fill="#3a3a3a" stroke="#3a3a3a" stroke-width="0.3" textLength="11.4" lengthAdjust="spacingAndGlyphs">1.0</text>
<line x1="303.80" y1="409.50" x2="441.30" y2="409.50" stroke="#1e1e1e" stroke-width="1"/>
<line x1="304.50" y1="409.50" x2="304.50" y2="412.00" stroke="#1e1e1e" stroke-width="1"/>
<text x="304.00" y="421.60" font-size="8.4" text-anchor="end" fill="#3a3a3a" stroke="#3a3a3a" stroke-width="0.3" textLength="6.7" lengthAdjust="spacingAndGlyphs">10</text>
<text x="305.10" y="418.60" font-size="6.6" text-anchor="start" fill="#3a3a3a" stroke="#3a3a3a" stroke-width="0.3" textLength="7.7" lengthAdjust="spacingAndGlyphs">-11</text>
<line x1="323.50" y1="409.50" x2="323.50" y2="412.00" stroke="#1e1e1e" stroke-width="1"/>
<text x="323.50" y="421.60" font-size="8.4" text-anchor="end" fill="#3a3a3a" stroke="#3a3a3a" stroke-width="0.3" textLength="6.7" lengthAdjust="spacingAndGlyphs">10</text>
<text x="324.60" y="418.60" font-size="6.6" text-anchor="start" fill="#3a3a3a" stroke="#3a3a3a" stroke-width="0.3" textLength="7.7" lengthAdjust="spacingAndGlyphs">-10</text>
<line x1="343.50" y1="409.50" x2="343.50" y2="412.00" stroke="#1e1e1e" stroke-width="1"/>
<text x="343.00" y="421.60" font-size="8.4" text-anchor="end" fill="#3a3a3a" stroke="#3a3a3a" stroke-width="0.3" textLength="6.7" lengthAdjust="spacingAndGlyphs">10</text>
<text x="344.10" y="418.60" font-size="6.6" text-anchor="start" fill="#3a3a3a" stroke="#3a3a3a" stroke-width="0.3" textLength="4.6" lengthAdjust="spacingAndGlyphs">-9</text>
<line x1="362.50" y1="409.50" x2="362.50" y2="412.00" stroke="#1e1e1e" stroke-width="1"/>
<text x="362.50" y="421.60" font-size="8.4" text-anchor="end" fill="#3a3a3a" stroke="#3a3a3a" stroke-width="0.3" textLength="6.7" lengthAdjust="spacingAndGlyphs">10</text>
<text x="363.60" y="418.60" font-size="6.6" text-anchor="start" fill="#3a3a3a" stroke="#3a3a3a" stroke-width="0.3" textLength="4.6" lengthAdjust="spacingAndGlyphs">-8</text>
<line x1="382.50" y1="409.50" x2="382.50" y2="412.00" stroke="#1e1e1e" stroke-width="1"/>
<text x="382.00" y="421.60" font-size="8.4" text-anchor="end" fill="#3a3a3a" stroke="#3a3a3a" stroke-width="0.3" textLength="6.7" lengthAdjust="spacingAndGlyphs">10</text>
<text x="383.10" y="418.60" font-size="6.6" text-anchor="start" fill="#3a3a3a" stroke="#3a3a3a" stroke-width="0.3" textLength="4.6" lengthAdjust="spacingAndGlyphs">-7</text>
<line x1="401.50" y1="409.50" x2="401.50" y2="412.00" stroke="#1e1e1e" stroke-width="1"/>
<text x="401.50" y="421.60" font-size="8.4" text-anchor="end" fill="#3a3a3a" stroke="#3a3a3a" stroke-width="0.3" textLength="6.7" lengthAdjust="spacingAndGlyphs">10</text>
<text x="402.60" y="418.60" font-size="6.6" text-anchor="start" fill="#3a3a3a" stroke="#3a3a3a" stroke-width="0.3" textLength="4.6" lengthAdjust="spacingAndGlyphs">-6</text>
<line x1="421.50" y1="409.50" x2="421.50" y2="412.00" stroke="#1e1e1e" stroke-width="1"/>
<text x="421.00" y="421.60" font-size="8.4" text-anchor="end" fill="#3a3a3a" stroke="#3a3a3a" stroke-width="0.3" textLength="6.7" lengthAdjust="spacingAndGlyphs">10</text>
<text x="422.10" y="418.60" font-size="6.6" text-anchor="start" fill="#3a3a3a" stroke="#3a3a3a" stroke-width="0.3" textLength="4.6" lengthAdjust="spacingAndGlyphs">-5</text>
<line x1="440.50" y1="409.50" x2="440.50" y2="412.00" stroke="#1e1e1e" stroke-width="1"/>
<text x="440.50" y="421.60" font-size="8.4" text-anchor="end" fill="#3a3a3a" stroke="#3a3a3a" stroke-width="0.3" textLength="6.7" lengthAdjust="spacingAndGlyphs">10</text>
<text x="441.60" y="418.60" font-size="6.6" text-anchor="start" fill="#3a3a3a" stroke="#3a3a3a" stroke-width="0.3" textLength="4.6" lengthAdjust="spacingAndGlyphs">-4</text>
<text x="372.80" y="435.20" font-size="9.2" text-anchor="middle" fill="#3a3a3a" stroke="#3a3a3a" stroke-width="0.3" textLength="60.6" lengthAdjust="spacingAndGlyphs">Log[VTP50469], M</text>
<text x="268.60" y="358.30" font-size="9.4" text-anchor="middle" fill="#3a3a3a" stroke="#3a3a3a" stroke-width="0.3" textLength="38" lengthAdjust="spacingAndGlyphs" transform="rotate(-90 268.60 358.3)">% response</text>
<text x="280.50" y="358.30" font-size="9.0" text-anchor="middle" fill="#3a3a3a" stroke="#3a3a3a" stroke-width="0.3" textLength="76.0" lengthAdjust="spacingAndGlyphs" transform="rotate(-90 280.50 358.3)">(normalized to DMSO)</text>
<polyline points="317.23,327.39 318.20,327.39 319.18,327.39 320.15,327.39 321.13,327.39 322.10,327.39 323.08,327.39 324.05,327.39 325.03,327.39 326.00,327.39 326.98,327.39 327.95,327.39 328.93,327.39 329.90,327.39 330.88,327.39 331.85,327.39 332.83,327.39 333.80,327.39 334.78,327.39 335.75,327.39 336.73,327.39 337.70,327.39 338.68,327.39 339.65,327.39 340.63,327.39 341.60,327.39 342.58,327.39 343.55,327.39 344.53,327.39 345.50,327.39 346.48,327.39 347.45,327.39 348.43,327.39 349.40,327.39 350.38,327.39 351.35,327.39 352.33,327.39 353.30,327.39 354.28,327.39 355.25,327.39 356.23,327.39 357.20,327.39 358.18,327.39 359.15,327.39 360.13,327.39 361.10,327.40 362.08,327.40 363.05,327.40 364.03,327.40 365.00,327.40 365.98,327.41 366.95,327.41 367.93,327.41 368.90,327.42 369.88,327.42 370.85,327.43 371.83,327.44 372.80,327.45 373.78,327.46 374.75,327.48 375.73,327.50 376.70,327.52 377.68,327.55 378.65,327.58 379.63,327.62 380.60,327.67 381.58,327.73 382.55,327.80 383.53,327.88 384.50,327.98 385.48,328.09 386.45,328.23 387.43,328.40 388.40,328.59 389.38,328.82 390.35,329.08 391.33,329.39 392.30,329.74 393.28,330.13 394.25,330.58 395.23,331.08 396.20,331.62 397.18,332.21 398.15,332.84 399.13,333.50 400.10,334.17 401.08,334.86 402.05,335.54 403.03,336.20 404.00,336.83 404.98,337.43 405.95,337.99 406.93,338.50 407.90,338.96 408.88,339.37 409.85,339.73 410.83,340.04 411.80,340.32 412.78,340.55 413.75,340.75 414.73,340.92 415.70,341.07 416.68,341.19 417.65,341.29 418.63,341.38 419.60,341.45 420.58,341.51 421.55,341.56 422.53,341.60 423.50,341.64 424.48,341.66 425.45,341.69 426.43,341.71 427.40,341.72 428.38,341.74 429.35,341.75 430.33,341.76 431.30,341.77 432.28,341.77 433.25,341.78 434.23,341.78" fill="none" stroke="#10508a" stroke-width="1.6"/>
<polyline points="317.23,340.43 318.20,340.43 319.18,340.43 320.15,340.43 321.13,340.43 322.10,340.43 323.08,340.43 324.05,340.43 325.03,340.43 326.00,340.44 326.98,340.44 327.95,340.44 328.93,340.44 329.90,340.44 330.88,340.44 331.85,340.44 332.83,340.44 333.80,340.45 334.78,340.45 335.75,340.45 336.73,340.46 337.70,340.46 338.68,340.47 339.65,340.48 340.63,340.49 341.60,340.50 342.58,340.51 343.55,340.52 344.53,340.54 345.50,340.56 346.48,340.58 347.45,340.61 348.43,340.65 349.40,340.69 350.38,340.74 351.35,340.79 352.33,340.86 353.30,340.94 354.28,341.04 355.25,341.15 356.23,341.28 357.20,341.44 358.18,341.63 359.15,341.85 360.13,342.11 361.10,342.41 362.08,342.77 363.05,343.18 364.03,343.67 365.00,344.23 365.98,344.89 366.95,345.64 367.93,346.51 368.90,347.50 369.88,348.62 370.85,349.88 371.83,351.28 372.80,352.83 373.78,354.53 374.75,356.36 375.73,358.32 376.70,360.38 377.68,362.52 378.65,364.71 379.63,366.93 380.60,369.13 381.58,371.28 382.55,373.37 383.53,375.35 384.50,377.21 385.48,378.94 386.45,380.53 387.43,381.97 388.40,383.26 389.38,384.41 390.35,385.43 391.33,386.33 392.30,387.11 393.28,387.79 394.25,388.37 395.23,388.88 396.20,389.31 397.18,389.68 398.15,389.99 399.13,390.26 400.10,390.49 401.08,390.69 402.05,390.85 403.03,390.99 404.00,391.11 404.98,391.21 405.95,391.29 406.93,391.36 407.90,391.42 408.88,391.47 409.85,391.51 410.83,391.55 411.80,391.58 412.78,391.60 413.75,391.63 414.73,391.64 415.70,391.66 416.68,391.67 417.65,391.68 418.63,391.69 419.60,391.70 420.58,391.71 421.55,391.71 422.53,391.72 423.50,391.72 424.48,391.72 425.45,391.73 426.43,391.73 427.40,391.73 428.38,391.73 429.35,391.73 430.33,391.73 431.30,391.73 432.28,391.74 433.25,391.74 434.23,391.74" fill="none" stroke="#c8203a" stroke-width="1.6"/>
<path d="M314.43,321.22 L320.03,321.22 L317.23,316.18 Z" fill="#10508a"/>
<path d="M333.93,329.32 L339.53,329.32 L336.73,324.28 Z" fill="#10508a"/>
<path d="M345.67,335.12 L351.27,335.12 L348.47,330.08 Z" fill="#10508a"/>
<path d="M365.17,335.72 L370.77,335.72 L367.97,330.68 Z" fill="#10508a"/>
<path d="M384.67,329.32 L390.27,329.32 L387.47,324.28 Z" fill="#10508a"/>
<path d="M404.17,340.62 L409.77,340.62 L406.97,335.58 Z" fill="#10508a"/>
<path d="M423.67,351.02 L429.27,351.02 L426.47,345.98 Z" fill="#10508a"/>
<path d="M431.43,338.02 L437.03,338.02 L434.23,332.98 Z" fill="#10508a"/>
<line x1="317.23" y1="331.70" x2="317.23" y2="337.50" stroke="#c8203a" stroke-width="0.9"/>
<line x1="315.43" y1="331.70" x2="319.03" y2="331.70" stroke="#c8203a" stroke-width="1.0"/>
<line x1="315.43" y1="337.50" x2="319.03" y2="337.50" stroke="#c8203a" stroke-width="1.0"/>
<rect x="314.73" y="332.10" width="5.00" height="5.00" fill="#c8203a"/>
<line x1="336.73" y1="338.20" x2="336.73" y2="344.00" stroke="#c8203a" stroke-width="0.9"/>
<line x1="334.93" y1="338.20" x2="338.53" y2="338.20" stroke="#c8203a" stroke-width="1.0"/>
<line x1="334.93" y1="344.00" x2="338.53" y2="344.00" stroke="#c8203a" stroke-width="1.0"/>
<rect x="334.23" y="338.70" width="5.00" height="5.00" fill="#c8203a"/>
<rect x="345.97" y="341.30" width="5.00" height="5.00" fill="#c8203a"/>
<line x1="367.97" y1="346.60" x2="367.97" y2="351.50" stroke="#c8203a" stroke-width="0.9"/>
<line x1="366.17" y1="346.60" x2="369.77" y2="346.60" stroke="#c8203a" stroke-width="1.0"/>
<line x1="366.17" y1="351.50" x2="369.77" y2="351.50" stroke="#c8203a" stroke-width="1.0"/>
<rect x="365.47" y="347.10" width="5.00" height="5.00" fill="#c8203a"/>
<line x1="387.47" y1="377.30" x2="387.47" y2="382.80" stroke="#c8203a" stroke-width="0.9"/>
<line x1="385.67" y1="377.30" x2="389.27" y2="377.30" stroke="#c8203a" stroke-width="1.0"/>
<line x1="385.67" y1="382.80" x2="389.27" y2="382.80" stroke="#c8203a" stroke-width="1.0"/>
<rect x="384.97" y="377.10" width="5.00" height="5.00" fill="#c8203a"/>
<line x1="406.97" y1="376.40" x2="406.97" y2="391.70" stroke="#c8203a" stroke-width="0.9"/>
<line x1="405.17" y1="376.40" x2="408.77" y2="376.40" stroke="#c8203a" stroke-width="1.0"/>
<line x1="405.17" y1="391.70" x2="408.77" y2="391.70" stroke="#c8203a" stroke-width="1.0"/>
<rect x="404.47" y="381.70" width="5.00" height="5.00" fill="#c8203a"/>
<line x1="426.47" y1="387.20" x2="426.47" y2="393.70" stroke="#c8203a" stroke-width="0.9"/>
<line x1="424.67" y1="387.20" x2="428.27" y2="387.20" stroke="#c8203a" stroke-width="1.0"/>
<line x1="424.67" y1="393.70" x2="428.27" y2="393.70" stroke="#c8203a" stroke-width="1.0"/>
<rect x="423.97" y="387.80" width="5.00" height="5.00" fill="#c8203a"/>
<line x1="434.23" y1="393.70" x2="434.23" y2="407.30" stroke="#c8203a" stroke-width="0.9"/>
<line x1="432.43" y1="393.70" x2="436.03" y2="393.70" stroke="#c8203a" stroke-width="1.0"/>
<line x1="432.43" y1="407.30" x2="436.03" y2="407.30" stroke="#c8203a" stroke-width="1.0"/>
<rect x="431.73" y="398.50" width="5.00" height="5.00" fill="#c8203a"/>
<line x1="423.80" y1="307.60" x2="434.80" y2="307.60" stroke="#c8203a" stroke-width="1.4"/>
<rect x="426.50" y="304.90" width="5.40" height="5.40" fill="#c8203a"/>
<text x="437.60" y="310.60" font-size="8.0" text-anchor="start" fill="#3a3a3a" stroke="#3a3a3a" stroke-width="0.3" textLength="55.4" lengthAdjust="spacingAndGlyphs">NUP98-JARID1A</text>
<line x1="423.80" y1="317.20" x2="434.80" y2="317.20" stroke="#10508a" stroke-width="1.4"/>
<path d="M426.30,319.51 L432.10,319.51 L429.20,314.29 Z" fill="#10508a"/>
<text x="437.60" y="320.20" font-size="8.0" text-anchor="start" fill="#3a3a3a" stroke="#3a3a3a" stroke-width="0.3" textLength="43.8" lengthAdjust="spacingAndGlyphs">Empty vector</text>
<text x="262.80" y="303.80" font-size="10" text-anchor="start" fill="#111" font-weight="bold" stroke="#111" stroke-width="0.45">C</text>
<line x1="51.30" y1="483.80" x2="51.30" y2="566.70" stroke="#1e1e1e" stroke-width="1"/>
<line x1="47.30" y1="566.20" x2="51.30" y2="566.20" stroke="#1e1e1e" stroke-width="1"/>
<text x="45.50" y="569.20" font-size="8.2" text-anchor="end" fill="#3a3a3a" stroke="#3a3a3a" stroke-width="0.3" textLength="4.2" lengthAdjust="spacingAndGlyphs">0</text>
<line x1="47.30" y1="538.75" x2="51.30" y2="538.75" stroke="#1e1e1e" stroke-width="1"/>
<text x="45.50" y="541.75" font-size="8.2" text-anchor="end" fill="#3a3a3a" stroke="#3a3a3a" stroke-width="0.3" textLength="8.0" lengthAdjust="spacingAndGlyphs">50</text>
<line x1="47.30" y1="511.30" x2="51.30" y2="511.30" stroke="#1e1e1e" stroke-width="1"/>
<text x="45.50" y="514.30" font-size="8.2" text-anchor="end" fill="#3a3a3a" stroke="#3a3a3a" stroke-width="0.3" textLength="12.6" lengthAdjust="spacingAndGlyphs">100</text>
<line x1="47.30" y1="483.85" x2="51.30" y2="483.85" stroke="#1e1e1e" stroke-width="1"/>
<text x="45.50" y="486.85" font-size="8.2" text-anchor="end" fill="#3a3a3a" stroke="#3a3a3a" stroke-width="0.3" textLength="12.6" lengthAdjust="spacingAndGlyphs">150</text>
<line x1="50.80" y1="566.20" x2="258.26" y2="566.20" stroke="#1e1e1e" stroke-width="1"/>
<rect x="53.10" y="539.74" width="9.75" height="26.46" fill="#c82034"/>
<line x1="57.98" y1="539.74" x2="57.98" y2="538.75" stroke="#333" stroke-width="0.8"/>
<line x1="55.98" y1="538.75" x2="59.98" y2="538.75" stroke="#333" stroke-width="1.0"/>
<line x1="57.98" y1="566.20" x2="57.98" y2="569.70" stroke="#1e1e1e" stroke-width="1"/>
<text x="60.48" y="574.60" font-size="8.2" text-anchor="end" fill="#3a3a3a" stroke="#3a3a3a" stroke-width="0.3" transform="rotate(-45 60.48 574.6)">DMSO</text>
<rect x="64.07" y="540.73" width="9.75" height="25.47" fill="#c82034"/>
<line x1="68.95" y1="540.73" x2="68.95" y2="539.85" stroke="#333" stroke-width="0.8"/>
<line x1="66.95" y1="539.85" x2="70.95" y2="539.85" stroke="#333" stroke-width="1.0"/>
<line x1="68.95" y1="566.20" x2="68.95" y2="569.70" stroke="#1e1e1e" stroke-width="1"/>
<text x="71.45" y="574.60" font-size="8.2" text-anchor="end" fill="#3a3a3a" stroke="#3a3a3a" stroke-width="0.3" transform="rotate(-45 71.45 574.6)">0.05 nM</text>
<rect x="75.04" y="539.57" width="9.75" height="26.63" fill="#c82034"/>
<line x1="79.92" y1="539.57" x2="79.92" y2="538.75" stroke="#333" stroke-width="0.8"/>
<line x1="77.92" y1="538.75" x2="81.92" y2="538.75" stroke="#333" stroke-width="1.0"/>
<line x1="79.92" y1="566.20" x2="79.92" y2="569.70" stroke="#1e1e1e" stroke-width="1"/>
<text x="82.42" y="574.60" font-size="8.2" text-anchor="end" fill="#3a3a3a" stroke="#3a3a3a" stroke-width="0.3" transform="rotate(-45 82.42 574.6)">0.5 nM</text>
<rect x="86.01" y="539.57" width="9.75" height="26.63" fill="#c82034"/>
<line x1="90.89" y1="539.57" x2="90.89" y2="538.75" stroke="#333" stroke-width="0.8"/>
<line x1="88.89" y1="538.75" x2="92.89" y2="538.75" stroke="#333" stroke-width="1.0"/>
<line x1="90.89" y1="566.20" x2="90.89" y2="569.70" stroke="#1e1e1e" stroke-width="1"/>
<text x="93.39" y="574.60" font-size="8.2" text-anchor="end" fill="#3a3a3a" stroke="#3a3a3a" stroke-width="0.3" transform="rotate(-45 93.39 574.6)">2 nM</text>
<rect x="96.98" y="539.35" width="9.75" height="26.85" fill="#c82034"/>
<line x1="101.86" y1="539.35" x2="101.86" y2="538.48" stroke="#333" stroke-width="0.8"/>
<line x1="99.86" y1="538.48" x2="103.86" y2="538.48" stroke="#333" stroke-width="1.0"/>
<line x1="101.86" y1="566.20" x2="101.86" y2="569.70" stroke="#1e1e1e" stroke-width="1"/>
<text x="104.36" y="574.60" font-size="8.2" text-anchor="end" fill="#3a3a3a" stroke="#3a3a3a" stroke-width="0.3" transform="rotate(-45 104.36 574.6)">20 nM</text>
<rect x="107.95" y="520.08" width="9.75" height="46.12" fill="#c82034"/>
<line x1="112.83" y1="520.08" x2="112.83" y2="518.66" stroke="#333" stroke-width="0.8"/>
<line x1="110.83" y1="518.66" x2="114.83" y2="518.66" stroke="#333" stroke-width="1.0"/>
<line x1="112.83" y1="566.20" x2="112.83" y2="569.70" stroke="#1e1e1e" stroke-width="1"/>
<text x="115.33" y="574.60" font-size="8.2" text-anchor="end" fill="#3a3a3a" stroke="#3a3a3a" stroke-width="0.3" transform="rotate(-45 115.33 574.6)">200 nM</text>
<rect x="118.92" y="498.12" width="9.75" height="68.08" fill="#c82034"/>
<line x1="123.80" y1="498.12" x2="123.80" y2="496.75" stroke="#333" stroke-width="0.8"/>
<line x1="121.80" y1="496.75" x2="125.80" y2="496.75" stroke="#333" stroke-width="1.0"/>
<line x1="123.80" y1="566.20" x2="123.80" y2="569.70" stroke="#1e1e1e" stroke-width="1"/>
<text x="126.30" y="574.60" font-size="8.2" text-anchor="end" fill="#3a3a3a" stroke="#3a3a3a" stroke-width="0.3" transform="rotate(-45 126.30 574.6)">2 uM</text>
<rect x="129.89" y="501.09" width="9.75" height="65.11" fill="#c82034"/>
<line x1="134.77" y1="501.09" x2="134.77" y2="499.77" stroke="#333" stroke-width="0.8"/>
<line x1="132.77" y1="499.77" x2="136.77" y2="499.77" stroke="#333" stroke-width="1.0"/>
<line x1="134.77" y1="566.20" x2="134.77" y2="569.70" stroke="#1e1e1e" stroke-width="1"/>
<text x="137.27" y="574.60" font-size="8.2" text-anchor="end" fill="#3a3a3a" stroke="#3a3a3a" stroke-width="0.3" transform="rotate(-45 137.27 574.6)">20 uM</text>
<rect x="140.86" y="499.22" width="9.75" height="66.98" fill="#c82034"/>
<line x1="145.74" y1="499.22" x2="145.74" y2="497.79" stroke="#333" stroke-width="0.8"/>
<line x1="143.74" y1="497.79" x2="147.74" y2="497.79" stroke="#333" stroke-width="1.0"/>
<line x1="145.74" y1="566.20" x2="145.74" y2="569.70" stroke="#1e1e1e" stroke-width="1"/>
<text x="148.24" y="574.60" font-size="8.2" text-anchor="end" fill="#3a3a3a" stroke="#3a3a3a" stroke-width="0.3" transform="rotate(-45 148.24 574.6)">50 uM</text>
<rect x="159.50" y="531.28" width="9.75" height="34.92" fill="#10508a"/>
<line x1="164.38" y1="531.28" x2="164.38" y2="529.80" stroke="#333" stroke-width="0.8"/>
<line x1="162.38" y1="529.80" x2="166.38" y2="529.80" stroke="#333" stroke-width="1.0"/>
<line x1="164.38" y1="566.20" x2="164.38" y2="569.70" stroke="#1e1e1e" stroke-width="1"/>
<text x="166.88" y="574.60" font-size="8.2" text-anchor="end" fill="#3a3a3a" stroke="#3a3a3a" stroke-width="0.3" transform="rotate(-45 166.88 574.6)">DMSO</text>
<rect x="170.47" y="533.42" width="9.75" height="32.78" fill="#10508a"/>
<line x1="175.34" y1="533.42" x2="175.34" y2="532.38" stroke="#333" stroke-width="0.8"/>
<line x1="173.34" y1="532.38" x2="177.34" y2="532.38" stroke="#333" stroke-width="1.0"/>
<line x1="175.34" y1="566.20" x2="175.34" y2="569.70" stroke="#1e1e1e" stroke-width="1"/>
<text x="177.84" y="574.60" font-size="8.2" text-anchor="end" fill="#3a3a3a" stroke="#3a3a3a" stroke-width="0.3" transform="rotate(-45 177.84 574.6)">0.05 nM</text>
<rect x="181.44" y="535.51" width="9.75" height="30.69" fill="#10508a"/>
<line x1="186.31" y1="535.51" x2="186.31" y2="534.08" stroke="#333" stroke-width="0.8"/>
<line x1="184.31" y1="534.08" x2="188.31" y2="534.08" stroke="#333" stroke-width="1.0"/>
<line x1="186.31" y1="566.20" x2="186.31" y2="569.70" stroke="#1e1e1e" stroke-width="1"/>
<text x="188.81" y="574.60" font-size="8.2" text-anchor="end" fill="#3a3a3a" stroke="#3a3a3a" stroke-width="0.3" transform="rotate(-45 188.81 574.6)">0.5 nM</text>
<rect x="192.41" y="532.38" width="9.75" height="33.82" fill="#10508a"/>
<line x1="197.28" y1="532.38" x2="197.28" y2="530.19" stroke="#333" stroke-width="0.8"/>
<line x1="195.28" y1="530.19" x2="199.28" y2="530.19" stroke="#333" stroke-width="1.0"/>
<line x1="197.28" y1="566.20" x2="197.28" y2="569.70" stroke="#1e1e1e" stroke-width="1"/>
<text x="199.78" y="574.60" font-size="8.2" text-anchor="end" fill="#3a3a3a" stroke="#3a3a3a" stroke-width="0.3" transform="rotate(-45 199.78 574.6)">2 nM</text>
<rect x="203.38" y="532.99" width="9.75" height="33.21" fill="#10508a"/>
<line x1="208.25" y1="532.99" x2="208.25" y2="531.50" stroke="#333" stroke-width="0.8"/>
<line x1="206.25" y1="531.50" x2="210.25" y2="531.50" stroke="#333" stroke-width="1.0"/>
<line x1="208.25" y1="566.20" x2="208.25" y2="569.70" stroke="#1e1e1e" stroke-width="1"/>
<text x="210.75" y="574.60" font-size="8.2" text-anchor="end" fill="#3a3a3a" stroke="#3a3a3a" stroke-width="0.3" transform="rotate(-45 210.75 574.6)">20 nM</text>
<rect x="214.35" y="532.38" width="9.75" height="33.82" fill="#10508a"/>
<line x1="219.22" y1="532.38" x2="219.22" y2="530.90" stroke="#333" stroke-width="0.8"/>
<line x1="217.22" y1="530.90" x2="221.22" y2="530.90" stroke="#333" stroke-width="1.0"/>
<line x1="219.22" y1="566.20" x2="219.22" y2="569.70" stroke="#1e1e1e" stroke-width="1"/>
<text x="221.72" y="574.60" font-size="8.2" text-anchor="end" fill="#3a3a3a" stroke="#3a3a3a" stroke-width="0.3" transform="rotate(-45 221.72 574.6)">200 nM</text>
<rect x="225.32" y="533.42" width="9.75" height="32.78" fill="#10508a"/>
<line x1="230.19" y1="533.42" x2="230.19" y2="531.50" stroke="#333" stroke-width="0.8"/>
<line x1="228.19" y1="531.50" x2="232.19" y2="531.50" stroke="#333" stroke-width="1.0"/>
<line x1="230.19" y1="566.20" x2="230.19" y2="569.70" stroke="#1e1e1e" stroke-width="1"/>
<text x="232.69" y="574.60" font-size="8.2" text-anchor="end" fill="#3a3a3a" stroke="#3a3a3a" stroke-width="0.3" transform="rotate(-45 232.69 574.6)">2 uM</text>
<rect x="236.29" y="524.92" width="9.75" height="41.28" fill="#10508a"/>
<line x1="241.17" y1="524.92" x2="241.17" y2="523.71" stroke="#333" stroke-width="0.8"/>
<line x1="239.17" y1="523.71" x2="243.17" y2="523.71" stroke="#333" stroke-width="1.0"/>
<line x1="241.17" y1="566.20" x2="241.17" y2="569.70" stroke="#1e1e1e" stroke-width="1"/>
<text x="243.67" y="574.60" font-size="8.2" text-anchor="end" fill="#3a3a3a" stroke="#3a3a3a" stroke-width="0.3" transform="rotate(-45 243.67 574.6)">20 uM</text>
<rect x="247.26" y="517.78" width="9.75" height="48.42" fill="#10508a"/>
<line x1="252.13" y1="517.78" x2="252.13" y2="516.08" stroke="#333" stroke-width="0.8"/>
<line x1="250.13" y1="516.08" x2="254.13" y2="516.08" stroke="#333" stroke-width="1.0"/>
<line x1="252.13" y1="566.20" x2="252.13" y2="569.70" stroke="#1e1e1e" stroke-width="1"/>
<text x="254.63" y="574.60" font-size="8.2" text-anchor="end" fill="#3a3a3a" stroke="#3a3a3a" stroke-width="0.3" transform="rotate(-45 254.63 574.6)">50 uM</text>
<circle cx="106.93" cy="513.50" r="1.1" fill="#3a3a3a"/>
<circle cx="110.43" cy="513.50" r="1.1" fill="#3a3a3a"/>
<circle cx="113.93" cy="513.50" r="1.1" fill="#3a3a3a"/>
<circle cx="117.43" cy="513.50" r="1.1" fill="#3a3a3a"/>
<circle cx="118.40" cy="490.60" r="1.1" fill="#3a3a3a"/>
<circle cx="121.90" cy="490.60" r="1.1" fill="#3a3a3a"/>
<circle cx="125.40" cy="490.60" r="1.1" fill="#3a3a3a"/>
<circle cx="128.90" cy="490.60" r="1.1" fill="#3a3a3a"/>
<circle cx="129.97" cy="495.60" r="1.1" fill="#3a3a3a"/>
<circle cx="133.47" cy="495.60" r="1.1" fill="#3a3a3a"/>
<circle cx="136.97" cy="495.60" r="1.1" fill="#3a3a3a"/>
<circle cx="140.47" cy="495.60" r="1.1" fill="#3a3a3a"/>
<circle cx="141.84" cy="490.60" r="1.1" fill="#3a3a3a"/>
<circle cx="145.34" cy="490.60" r="1.1" fill="#3a3a3a"/>
<circle cx="148.84" cy="490.60" r="1.1" fill="#3a3a3a"/>
<circle cx="152.34" cy="490.60" r="1.1" fill="#3a3a3a"/>
<text x="26.70" y="525.40" font-size="10.0" text-anchor="middle" fill="#3a3a3a" stroke="#3a3a3a" stroke-width="0.3" textLength="37.2" lengthAdjust="spacingAndGlyphs" transform="rotate(-90 26.70 525.4)">CD11b MFI</text>
<text x="113.75" y="609.40" font-size="9.9" text-anchor="start" fill="#3a3a3a" stroke="#3a3a3a" stroke-width="0.3" textLength="82.5" lengthAdjust="spacingAndGlyphs">Concentration VTP50469</text>
<rect x="180.00" y="478.70" width="9.00" height="6.00" fill="#c82034"/>
<rect x="180.00" y="487.80" width="9.00" height="6.00" fill="#10508a"/>
<text x="192.00" y="484.10" font-size="8.0" text-anchor="start" fill="#3a3a3a" stroke="#3a3a3a" stroke-width="0.3" textLength="50.7" lengthAdjust="spacingAndGlyphs">NUP98-HOXA9</text>
<text x="192.00" y="493.20" font-size="8.0" text-anchor="start" fill="#3a3a3a" stroke="#3a3a3a" stroke-width="0.3" textLength="43.8" lengthAdjust="spacingAndGlyphs">Empty vector</text>
<text x="7.60" y="476.70" font-size="10" text-anchor="start" fill="#111" font-weight="bold" textLength="8.4" lengthAdjust="spacingAndGlyphs" stroke="#111" stroke-width="0.45">D</text>
<line x1="304.30" y1="483.80" x2="304.30" y2="566.70" stroke="#1e1e1e" stroke-width="1"/>
<line x1="300.30" y1="566.20" x2="304.30" y2="566.20" stroke="#1e1e1e" stroke-width="1"/>
<text x="298.50" y="569.20" font-size="8.2" text-anchor="end" fill="#3a3a3a" stroke="#3a3a3a" stroke-width="0.3" textLength="4.2" lengthAdjust="spacingAndGlyphs">0</text>
<line x1="300.30" y1="538.75" x2="304.30" y2="538.75" stroke="#1e1e1e" stroke-width="1"/>
<text x="298.50" y="541.75" font-size="8.2" text-anchor="end" fill="#3a3a3a" stroke="#3a3a3a" stroke-width="0.3" textLength="8.0" lengthAdjust="spacingAndGlyphs">50</text>
<line x1="300.30" y1="511.30" x2="304.30" y2="511.30" stroke="#1e1e1e" stroke-width="1"/>
<text x="298.50" y="514.30" font-size="8.2" text-anchor="end" fill="#3a3a3a" stroke="#3a3a3a" stroke-width="0.3" textLength="12.6" lengthAdjust="spacingAndGlyphs">100</text>
<line x1="300.30" y1="483.85" x2="304.30" y2="483.85" stroke="#1e1e1e" stroke-width="1"/>
<text x="298.50" y="486.85" font-size="8.2" text-anchor="end" fill="#3a3a3a" stroke="#3a3a3a" stroke-width="0.3" textLength="12.6" lengthAdjust="spacingAndGlyphs">150</text>
<line x1="303.80" y1="566.20" x2="511.06" y2="566.20" stroke="#1e1e1e" stroke-width="1"/>
<rect x="305.90" y="518.60" width="9.75" height="47.60" fill="#c82034"/>
<line x1="310.77" y1="518.60" x2="310.77" y2="517.01" stroke="#333" stroke-width="0.8"/>
<line x1="308.77" y1="517.01" x2="312.77" y2="517.01" stroke="#333" stroke-width="1.0"/>
<line x1="310.77" y1="566.20" x2="310.77" y2="569.70" stroke="#1e1e1e" stroke-width="1"/>
<text x="313.27" y="574.60" font-size="8.2" text-anchor="end" fill="#3a3a3a" stroke="#3a3a3a" stroke-width="0.3" transform="rotate(-45 313.27 574.6)">DMSO</text>
<rect x="316.87" y="519.32" width="9.75" height="46.88" fill="#c82034"/>
<line x1="321.75" y1="519.32" x2="321.75" y2="517.50" stroke="#333" stroke-width="0.8"/>
<line x1="319.75" y1="517.50" x2="323.75" y2="517.50" stroke="#333" stroke-width="1.0"/>
<line x1="321.75" y1="566.20" x2="321.75" y2="569.70" stroke="#1e1e1e" stroke-width="1"/>
<text x="324.25" y="574.60" font-size="8.2" text-anchor="end" fill="#3a3a3a" stroke="#3a3a3a" stroke-width="0.3" transform="rotate(-45 324.25 574.6)">0.05 nM</text>
<rect x="327.84" y="516.63" width="9.75" height="49.57" fill="#c82034"/>
<line x1="332.71" y1="516.63" x2="332.71" y2="514.92" stroke="#333" stroke-width="0.8"/>
<line x1="330.71" y1="514.92" x2="334.71" y2="514.92" stroke="#333" stroke-width="1.0"/>
<line x1="332.71" y1="566.20" x2="332.71" y2="569.70" stroke="#1e1e1e" stroke-width="1"/>
<text x="335.21" y="574.60" font-size="8.2" text-anchor="end" fill="#3a3a3a" stroke="#3a3a3a" stroke-width="0.3" transform="rotate(-45 335.21 574.6)">0.5 nM</text>
<rect x="338.81" y="515.42" width="9.75" height="50.78" fill="#c82034"/>
<line x1="343.69" y1="515.42" x2="343.69" y2="513.83" stroke="#333" stroke-width="0.8"/>
<line x1="341.69" y1="513.83" x2="345.69" y2="513.83" stroke="#333" stroke-width="1.0"/>
<line x1="343.69" y1="566.20" x2="343.69" y2="569.70" stroke="#1e1e1e" stroke-width="1"/>
<text x="346.19" y="574.60" font-size="8.2" text-anchor="end" fill="#3a3a3a" stroke="#3a3a3a" stroke-width="0.3" transform="rotate(-45 346.19 574.6)">2 nM</text>
<rect x="349.78" y="514.05" width="9.75" height="52.16" fill="#c82034"/>
<line x1="354.65" y1="514.05" x2="354.65" y2="511.30" stroke="#333" stroke-width="0.8"/>
<line x1="352.65" y1="511.30" x2="356.65" y2="511.30" stroke="#333" stroke-width="1.0"/>
<line x1="354.65" y1="566.20" x2="354.65" y2="569.70" stroke="#1e1e1e" stroke-width="1"/>
<text x="357.15" y="574.60" font-size="8.2" text-anchor="end" fill="#3a3a3a" stroke="#3a3a3a" stroke-width="0.3" transform="rotate(-45 357.15 574.6)">20 nM</text>
<rect x="360.75" y="506.58" width="9.75" height="59.62" fill="#c82034"/>
<line x1="365.62" y1="506.58" x2="365.62" y2="503.89" stroke="#333" stroke-width="0.8"/>
<line x1="363.62" y1="503.89" x2="367.62" y2="503.89" stroke="#333" stroke-width="1.0"/>
<line x1="365.62" y1="566.20" x2="365.62" y2="569.70" stroke="#1e1e1e" stroke-width="1"/>
<text x="368.12" y="574.60" font-size="8.2" text-anchor="end" fill="#3a3a3a" stroke="#3a3a3a" stroke-width="0.3" transform="rotate(-45 368.12 574.6)">200 nM</text>
<rect x="371.72" y="503.89" width="9.75" height="62.31" fill="#c82034"/>
<line x1="376.59" y1="503.89" x2="376.59" y2="500.37" stroke="#333" stroke-width="0.8"/>
<line x1="374.59" y1="500.37" x2="378.59" y2="500.37" stroke="#333" stroke-width="1.0"/>
<line x1="376.59" y1="566.20" x2="376.59" y2="569.70" stroke="#1e1e1e" stroke-width="1"/>
<text x="379.09" y="574.60" font-size="8.2" text-anchor="end" fill="#3a3a3a" stroke="#3a3a3a" stroke-width="0.3" transform="rotate(-45 379.09 574.6)">2 uM</text>
<rect x="382.69" y="526.67" width="9.75" height="39.53" fill="#c82034"/>
<line x1="387.56" y1="526.67" x2="387.56" y2="525.08" stroke="#333" stroke-width="0.8"/>
<line x1="385.56" y1="525.08" x2="389.56" y2="525.08" stroke="#333" stroke-width="1.0"/>
<line x1="387.56" y1="566.20" x2="387.56" y2="569.70" stroke="#1e1e1e" stroke-width="1"/>
<text x="390.06" y="574.60" font-size="8.2" text-anchor="end" fill="#3a3a3a" stroke="#3a3a3a" stroke-width="0.3" transform="rotate(-45 390.06 574.6)">20 uM</text>
<rect x="393.66" y="539.41" width="9.75" height="26.79" fill="#c82034"/>
<line x1="398.53" y1="539.41" x2="398.53" y2="538.31" stroke="#333" stroke-width="0.8"/>
<line x1="396.53" y1="538.31" x2="400.53" y2="538.31" stroke="#333" stroke-width="1.0"/>
<line x1="398.53" y1="566.20" x2="398.53" y2="569.70" stroke="#1e1e1e" stroke-width="1"/>
<text x="401.03" y="574.60" font-size="8.2" text-anchor="end" fill="#3a3a3a" stroke="#3a3a3a" stroke-width="0.3" transform="rotate(-45 401.03 574.6)">50 uM</text>
<rect x="412.30" y="531.28" width="9.75" height="34.92" fill="#10508a"/>
<line x1="417.18" y1="531.28" x2="417.18" y2="530.13" stroke="#333" stroke-width="0.8"/>
<line x1="415.18" y1="530.13" x2="419.18" y2="530.13" stroke="#333" stroke-width="1.0"/>
<line x1="417.18" y1="566.20" x2="417.18" y2="569.70" stroke="#1e1e1e" stroke-width="1"/>
<text x="419.68" y="574.60" font-size="8.2" text-anchor="end" fill="#3a3a3a" stroke="#3a3a3a" stroke-width="0.3" transform="rotate(-45 419.68 574.6)">DMSO</text>
<rect x="423.27" y="533.10" width="9.75" height="33.10" fill="#10508a"/>
<line x1="428.15" y1="533.10" x2="428.15" y2="531.89" stroke="#333" stroke-width="0.8"/>
<line x1="426.15" y1="531.89" x2="430.15" y2="531.89" stroke="#333" stroke-width="1.0"/>
<line x1="428.15" y1="566.20" x2="428.15" y2="569.70" stroke="#1e1e1e" stroke-width="1"/>
<text x="430.65" y="574.60" font-size="8.2" text-anchor="end" fill="#3a3a3a" stroke="#3a3a3a" stroke-width="0.3" transform="rotate(-45 430.65 574.6)">0.05 nM</text>
<rect x="434.24" y="535.40" width="9.75" height="30.80" fill="#10508a"/>
<line x1="439.12" y1="535.40" x2="439.12" y2="533.59" stroke="#333" stroke-width="0.8"/>
<line x1="437.12" y1="533.59" x2="441.12" y2="533.59" stroke="#333" stroke-width="1.0"/>
<line x1="439.12" y1="566.20" x2="439.12" y2="569.70" stroke="#1e1e1e" stroke-width="1"/>
<text x="441.62" y="574.60" font-size="8.2" text-anchor="end" fill="#3a3a3a" stroke="#3a3a3a" stroke-width="0.3" transform="rotate(-45 441.62 574.6)">0.5 nM</text>
<rect x="445.21" y="531.89" width="9.75" height="34.31" fill="#10508a"/>
<line x1="450.09" y1="531.89" x2="450.09" y2="530.13" stroke="#333" stroke-width="0.8"/>
<line x1="448.09" y1="530.13" x2="452.09" y2="530.13" stroke="#333" stroke-width="1.0"/>
<line x1="450.09" y1="566.20" x2="450.09" y2="569.70" stroke="#1e1e1e" stroke-width="1"/>
<text x="452.59" y="574.60" font-size="8.2" text-anchor="end" fill="#3a3a3a" stroke="#3a3a3a" stroke-width="0.3" transform="rotate(-45 452.59 574.6)">2 nM</text>
<rect x="456.18" y="532.88" width="9.75" height="33.32" fill="#10508a"/>
<line x1="461.06" y1="532.88" x2="461.06" y2="531.28" stroke="#333" stroke-width="0.8"/>
<line x1="459.06" y1="531.28" x2="463.06" y2="531.28" stroke="#333" stroke-width="1.0"/>
<line x1="461.06" y1="566.20" x2="461.06" y2="569.70" stroke="#1e1e1e" stroke-width="1"/>
<text x="463.56" y="574.60" font-size="8.2" text-anchor="end" fill="#3a3a3a" stroke="#3a3a3a" stroke-width="0.3" transform="rotate(-45 463.56 574.6)">20 nM</text>
<rect x="467.15" y="531.89" width="9.75" height="34.31" fill="#10508a"/>
<line x1="472.03" y1="531.89" x2="472.03" y2="530.79" stroke="#333" stroke-width="0.8"/>
<line x1="470.03" y1="530.79" x2="474.03" y2="530.79" stroke="#333" stroke-width="1.0"/>
<line x1="472.03" y1="566.20" x2="472.03" y2="569.70" stroke="#1e1e1e" stroke-width="1"/>
<text x="474.53" y="574.60" font-size="8.2" text-anchor="end" fill="#3a3a3a" stroke="#3a3a3a" stroke-width="0.3" transform="rotate(-45 474.53 574.6)">200 nM</text>
<rect x="478.12" y="533.10" width="9.75" height="33.10" fill="#10508a"/>
<line x1="483.00" y1="533.10" x2="483.00" y2="531.28" stroke="#333" stroke-width="0.8"/>
<line x1="481.00" y1="531.28" x2="485.00" y2="531.28" stroke="#333" stroke-width="1.0"/>
<line x1="483.00" y1="566.20" x2="483.00" y2="569.70" stroke="#1e1e1e" stroke-width="1"/>
<text x="485.50" y="574.60" font-size="8.2" text-anchor="end" fill="#3a3a3a" stroke="#3a3a3a" stroke-width="0.3" transform="rotate(-45 485.50 574.6)">2 uM</text>
<rect x="489.09" y="524.31" width="9.75" height="41.89" fill="#10508a"/>
<line x1="493.97" y1="524.31" x2="493.97" y2="523.21" stroke="#333" stroke-width="0.8"/>
<line x1="491.97" y1="523.21" x2="495.97" y2="523.21" stroke="#333" stroke-width="1.0"/>
<line x1="493.97" y1="566.20" x2="493.97" y2="569.70" stroke="#1e1e1e" stroke-width="1"/>
<text x="496.47" y="574.60" font-size="8.2" text-anchor="end" fill="#3a3a3a" stroke="#3a3a3a" stroke-width="0.3" transform="rotate(-45 496.47 574.6)">20 uM</text>
<rect x="500.06" y="517.39" width="9.75" height="48.81" fill="#10508a"/>
<line x1="504.94" y1="517.39" x2="504.94" y2="515.58" stroke="#333" stroke-width="0.8"/>
<line x1="502.94" y1="515.58" x2="506.94" y2="515.58" stroke="#333" stroke-width="1.0"/>
<line x1="504.94" y1="566.20" x2="504.94" y2="569.70" stroke="#1e1e1e" stroke-width="1"/>
<text x="507.44" y="574.60" font-size="8.2" text-anchor="end" fill="#3a3a3a" stroke="#3a3a3a" stroke-width="0.3" transform="rotate(-45 507.44 574.6)">50 uM</text>
<circle cx="360.02" cy="499.70" r="1.1" fill="#3a3a3a"/>
<circle cx="363.52" cy="499.70" r="1.1" fill="#3a3a3a"/>
<circle cx="367.02" cy="499.70" r="1.1" fill="#3a3a3a"/>
<circle cx="370.52" cy="499.70" r="1.1" fill="#3a3a3a"/>
<circle cx="371.49" cy="494.90" r="1.1" fill="#3a3a3a"/>
<circle cx="374.99" cy="494.90" r="1.1" fill="#3a3a3a"/>
<circle cx="378.49" cy="494.90" r="1.1" fill="#3a3a3a"/>
<circle cx="381.99" cy="494.90" r="1.1" fill="#3a3a3a"/>
<circle cx="384.17" cy="520.80" r="1.1" fill="#3a3a3a"/>
<circle cx="387.67" cy="520.80" r="1.1" fill="#3a3a3a"/>
<circle cx="391.17" cy="520.80" r="1.1" fill="#3a3a3a"/>
<circle cx="393.93" cy="534.20" r="1.1" fill="#3a3a3a"/>
<circle cx="397.43" cy="534.20" r="1.1" fill="#3a3a3a"/>
<circle cx="400.93" cy="534.20" r="1.1" fill="#3a3a3a"/>
<circle cx="404.43" cy="534.20" r="1.1" fill="#3a3a3a"/>
<text x="279.70" y="525.40" font-size="10.0" text-anchor="middle" fill="#3a3a3a" stroke="#3a3a3a" stroke-width="0.3" textLength="37.2" lengthAdjust="spacingAndGlyphs" transform="rotate(-90 279.70 525.4)">CD11b MFI</text>
<text x="366.25" y="609.40" font-size="9.9" text-anchor="start" fill="#3a3a3a" stroke="#3a3a3a" stroke-width="0.3" textLength="82.5" lengthAdjust="spacingAndGlyphs">Concentration VTP50469</text>
<rect x="443.80" y="478.70" width="9.00" height="6.00" fill="#c82034"/>
<rect x="443.80" y="487.80" width="9.00" height="6.00" fill="#10508a"/>
<text x="455.40" y="484.10" font-size="8.0" text-anchor="start" fill="#3a3a3a" stroke="#3a3a3a" stroke-width="0.3" textLength="55.4" lengthAdjust="spacingAndGlyphs">NUP98-JARID1A</text>
<text x="455.40" y="493.20" font-size="8.0" text-anchor="start" fill="#3a3a3a" stroke="#3a3a3a" stroke-width="0.3" textLength="43.8" lengthAdjust="spacingAndGlyphs">Empty vector</text>
<text x="262.80" y="476.70" font-size="10" text-anchor="start" fill="#111" font-weight="bold" stroke="#111" stroke-width="0.45">E</text>
<rect x="0.5" y="0.5" width="519" height="616" fill="none" stroke="#151212" stroke-width="1"/>
</svg>
</body></html>
